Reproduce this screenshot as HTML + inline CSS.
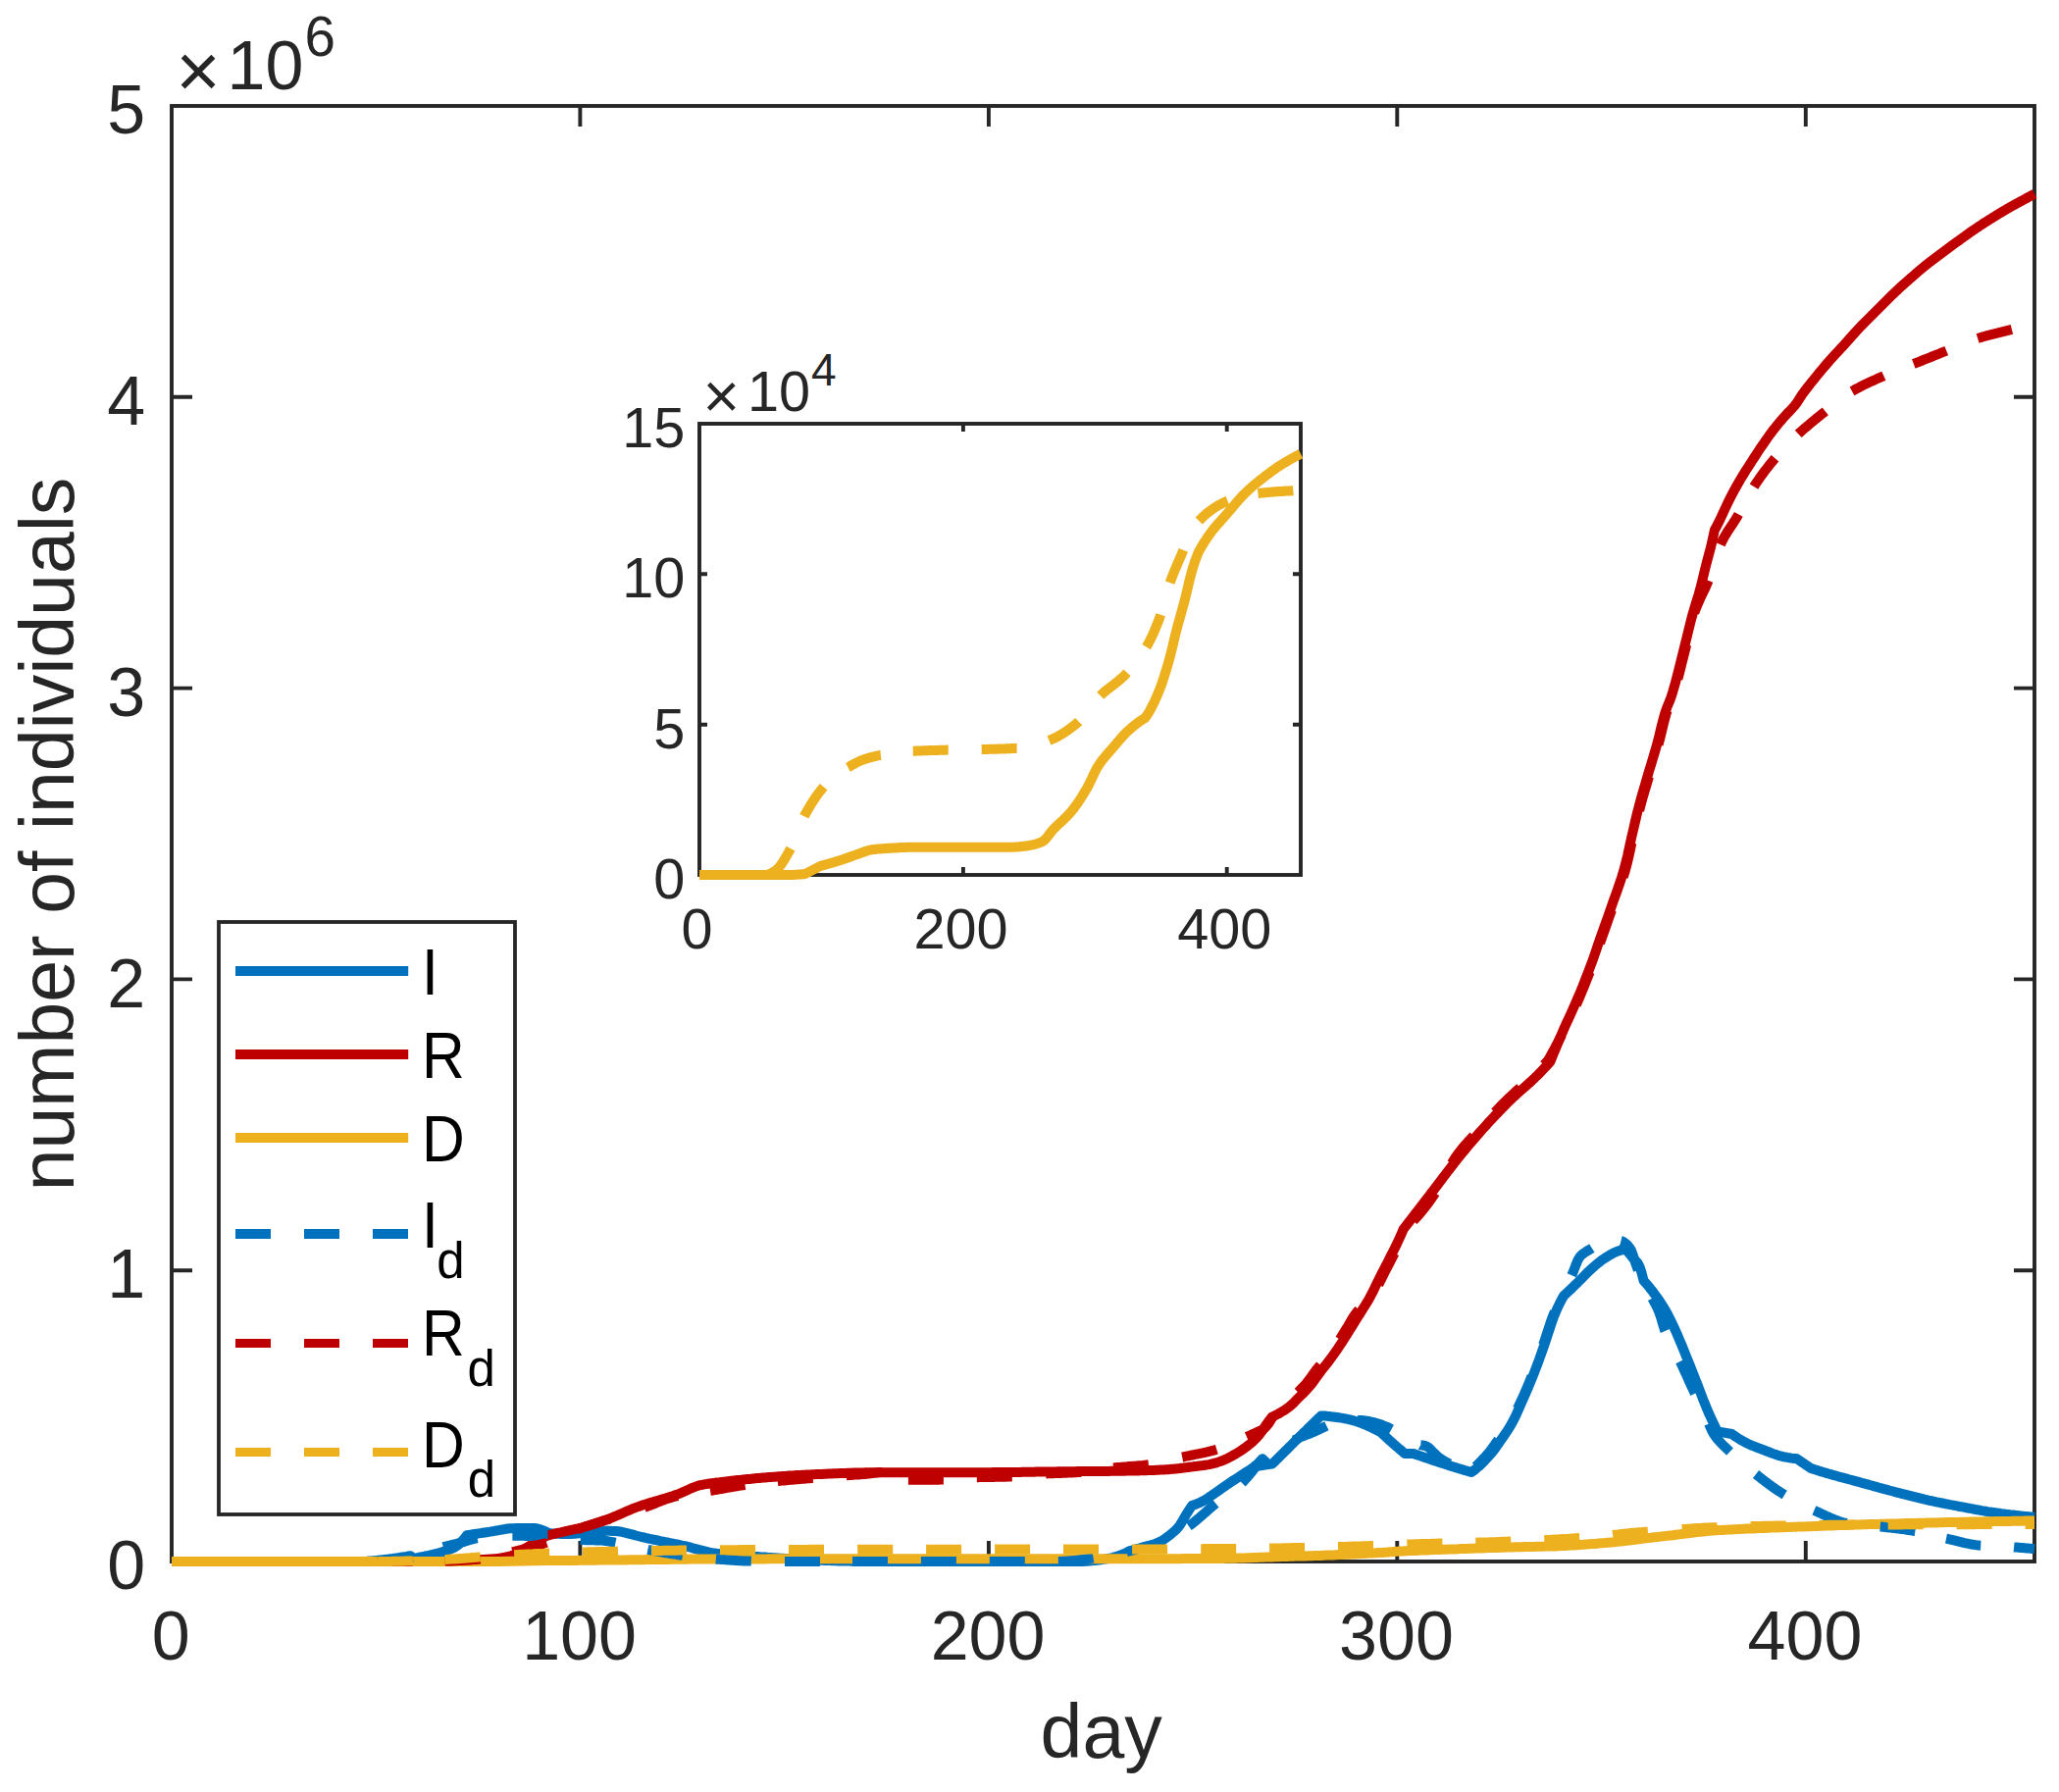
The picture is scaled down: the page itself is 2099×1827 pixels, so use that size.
<!DOCTYPE html>
<html><head><meta charset="utf-8"><title>figure</title>
<style>html,body{margin:0;padding:0;background:#fff}svg{display:block}</style></head>
<body>
<svg width="2099" height="1827" viewBox="0 0 2099 1827">
<rect x="0" y="0" width="2099" height="1827" fill="#ffffff"/>
<g stroke="#262626" stroke-width="3.9" fill="none" stroke-linecap="butt">
<rect x="175.0" y="108.0" width="1899.0" height="1484.0" fill="#ffffff" stroke-linejoin="miter"/>
<path d="M591.4 1592.0 V1571.0 M591.4 108.0 V129.0 M1007.9 1592.0 V1571.0 M1007.9 108.0 V129.0 M1424.3 1592.0 V1571.0 M1424.3 108.0 V129.0 M1840.8 1592.0 V1571.0 M1840.8 108.0 V129.0 M175.0 1295.2 H196.0 M2074.0 1295.2 H2053.0 M175.0 998.4 H196.0 M2074.0 998.4 H2053.0 M175.0 701.6 H196.0 M2074.0 701.6 H2053.0 M175.0 404.8 H196.0 M2074.0 404.8 H2053.0"/>
</g>
<path d="M175.0 1592.0 L177.0 1592.0 L179.0 1592.0 L181.0 1592.0 L183.0 1592.0 L185.1 1592.0 L187.1 1592.0 L189.1 1592.0 L191.1 1592.0 L193.1 1592.0 L195.1 1592.0 L197.1 1592.0 L199.1 1592.0 L201.2 1592.0 L203.2 1592.0 L205.2 1592.0 L207.2 1592.0 L209.2 1592.0 L211.2 1592.0 L213.2 1592.0 L215.2 1592.0 L217.3 1592.0 L219.3 1592.0 L221.3 1592.0 L223.3 1592.0 L225.3 1592.0 L227.3 1592.0 L229.3 1592.0 L231.3 1592.0 L233.4 1592.0 L235.4 1592.0 L237.4 1592.0 L239.4 1592.0 L241.4 1592.0 L243.4 1592.0 L245.4 1592.0 L247.4 1592.0 L249.5 1592.0 L251.5 1592.0 L253.5 1592.0 L255.5 1592.0 L257.5 1592.0 L259.5 1592.0 L261.5 1592.0 L263.5 1592.0 L265.6 1592.0 L267.6 1592.0 L269.6 1592.0 L271.6 1592.0 L273.6 1592.0 L275.6 1592.0 L277.6 1592.0 L279.6 1592.0 L281.7 1592.0 L283.7 1592.0 L285.7 1592.0 L287.7 1592.0 L289.7 1592.0 L291.7 1592.0 L293.7 1592.0 L295.7 1592.0 L297.8 1592.0 L299.8 1592.0 L301.8 1592.0 L303.8 1592.0 L305.8 1592.0 L307.8 1592.0 L309.8 1592.0 L311.8 1592.0 L313.9 1592.0 L315.9 1592.0 L317.9 1592.0 L319.9 1592.0 L321.9 1592.0 L323.9 1592.0 L325.9 1592.0 L327.9 1592.0 L330.0 1592.0 L332.0 1592.0 L334.0 1592.0 L336.0 1592.0 L338.0 1592.0 L340.0 1592.0 L342.0 1592.0 L344.0 1592.0 L346.1 1592.0 L348.1 1592.0 L350.1 1592.0 L352.1 1592.0 L354.1 1592.0 L356.1 1592.0 L358.1 1592.0 L360.1 1592.0 L362.2 1592.0 L364.2 1592.0 L366.2 1592.0 L368.2 1592.0 L370.2 1592.0 L372.2 1591.9 L374.2 1591.8 L376.2 1591.6 L378.3 1591.4 L380.3 1591.2 L382.3 1591.1 L384.3 1590.9 L386.3 1590.6 L388.3 1590.4 L390.3 1590.2 L392.3 1590.0 L394.4 1589.7 L396.4 1589.5 L398.4 1589.2 L400.4 1589.0 L402.4 1588.7 L404.4 1588.4 L406.4 1588.1 L408.4 1587.8 L410.5 1587.5 L412.5 1587.2 L414.5 1586.9 L416.5 1586.5 L418.5 1586.2 L420.5 1589.0 L422.6 1588.7 L424.6 1588.3 L426.7 1587.9 L428.7 1587.5 L430.8 1587.1 L432.8 1586.7 L434.9 1586.2 L436.9 1585.8 L439.0 1585.3 L441.1 1584.8 L443.1 1584.3 L445.2 1583.8 L447.2 1583.3 L449.3 1582.7 L451.3 1582.1 L453.4 1581.4 L455.4 1580.8 L457.5 1580.1 L459.6 1579.3 L461.6 1578.4 L463.7 1577.4 L465.7 1576.1 L467.8 1574.5 L469.8 1572.5 L471.9 1570.3 L473.9 1567.8 L476.0 1565.2 L478.0 1564.9 L480.0 1564.6 L482.0 1564.3 L484.0 1564.0 L486.0 1563.7 L488.0 1563.4 L490.0 1563.1 L492.0 1562.8 L494.0 1562.5 L496.0 1562.2 L498.0 1561.9 L500.0 1561.6 L502.0 1561.2 L504.0 1560.9 L506.0 1560.5 L508.0 1560.2 L510.0 1559.8 L512.0 1559.5 L514.0 1559.1 L516.0 1558.8 L518.0 1558.5 L520.0 1558.3 L522.0 1558.2 L524.0 1558.2 L526.0 1558.1 L528.0 1558.1 L530.0 1558.1 L532.0 1558.1 L534.0 1558.0 L536.0 1558.0 L538.0 1558.0 L540.0 1558.0 L542.0 1558.0 L544.0 1558.0 L546.0 1558.1 L548.0 1558.5 L550.0 1559.1 L552.0 1559.7 L554.0 1560.4 L556.0 1561.3 L558.0 1562.2 L560.0 1563.1 L562.0 1563.4 L564.0 1563.5 L566.0 1563.7 L568.0 1563.7 L570.0 1563.8 L572.0 1563.9 L574.0 1563.9 L576.0 1564.0 L578.0 1564.0 L580.0 1564.0 L582.0 1564.0 L584.0 1563.8 L586.0 1563.7 L588.0 1563.5 L590.0 1563.3 L592.0 1563.2 L594.1 1563.1 L596.1 1563.0 L598.1 1562.9 L600.1 1562.9 L602.1 1562.8 L604.1 1562.7 L606.1 1562.6 L608.1 1562.3 L610.1 1562.0 L612.1 1561.6 L614.1 1561.2 L616.1 1561.0 L618.1 1560.8 L620.1 1560.8 L622.1 1560.8 L624.1 1560.9 L626.1 1561.0 L628.1 1561.0 L630.1 1561.2 L632.1 1561.5 L634.1 1561.9 L636.1 1562.4 L638.1 1562.8 L640.1 1563.3 L642.1 1563.8 L644.1 1564.3 L646.1 1564.9 L648.1 1565.5 L650.1 1566.0 L652.1 1566.5 L654.1 1567.0 L656.1 1567.4 L658.1 1567.9 L660.1 1568.3 L662.1 1568.8 L664.1 1569.2 L666.1 1569.6 L668.1 1570.0 L670.1 1570.4 L672.1 1570.9 L674.1 1571.3 L676.1 1571.7 L678.1 1572.1 L680.1 1572.5 L682.1 1572.9 L684.1 1573.3 L686.1 1573.7 L688.1 1574.1 L690.1 1574.5 L692.1 1574.9 L694.1 1575.4 L696.1 1575.8 L698.1 1576.2 L700.1 1576.7 L702.1 1577.2 L704.1 1577.7 L706.1 1578.3 L708.1 1578.8 L710.1 1579.3 L712.1 1579.9 L714.1 1580.4 L716.1 1580.9 L718.1 1581.4 L720.1 1581.9 L722.1 1582.4 L724.1 1582.8 L726.1 1583.2 L728.1 1583.5 L730.1 1583.8 L732.1 1584.1 L734.1 1584.3 L736.1 1584.5 L738.1 1584.7 L740.1 1584.9 L742.1 1585.1 L744.1 1585.2 L746.1 1585.4 L748.1 1585.6 L750.1 1585.7 L752.1 1585.9 L754.1 1586.0 L756.1 1586.1 L758.1 1586.3 L760.1 1586.4 L762.1 1586.5 L764.1 1586.6 L766.1 1586.8 L768.1 1586.9 L770.1 1587.0 L772.1 1587.1 L774.1 1587.2 L776.1 1587.4 L778.1 1587.5 L780.1 1587.6 L782.1 1587.8 L784.1 1587.9 L786.1 1588.0 L788.1 1588.2 L790.1 1588.3 L792.1 1588.4 L794.1 1588.6 L796.1 1588.7 L798.1 1588.8 L800.1 1588.9 L802.1 1589.0 L804.1 1589.2 L806.1 1589.3 L808.1 1589.4 L810.1 1589.5 L812.1 1589.6 L814.1 1589.7 L816.1 1589.8 L818.1 1589.9 L820.1 1590.0 L822.1 1590.1 L824.1 1590.2 L826.1 1590.3 L828.2 1590.4 L830.2 1590.5 L832.2 1590.6 L834.2 1590.6 L836.2 1590.7 L838.2 1590.8 L840.2 1590.9 L842.2 1591.0 L844.2 1591.0 L846.2 1591.1 L848.2 1591.2 L850.2 1591.3 L852.2 1591.3 L854.2 1591.4 L856.2 1591.4 L858.2 1591.5 L860.2 1591.5 L862.2 1591.5 L864.2 1591.6 L866.2 1591.6 L868.2 1591.7 L870.2 1591.7 L872.2 1591.7 L874.2 1591.8 L876.2 1591.8 L878.2 1591.8 L880.2 1591.8 L882.2 1591.9 L884.2 1591.9 L886.2 1591.9 L888.2 1591.9 L890.2 1592.0 L892.2 1592.0 L894.2 1592.0 L896.2 1592.0 L898.2 1592.0 L900.2 1592.0 L902.2 1592.0 L904.2 1592.0 L906.2 1592.0 L908.2 1592.0 L910.2 1592.0 L912.2 1592.0 L914.2 1592.0 L916.2 1592.0 L918.2 1592.0 L920.2 1592.0 L922.2 1592.0 L924.2 1592.0 L926.2 1592.0 L928.2 1592.0 L930.2 1592.0 L932.2 1592.0 L934.2 1592.0 L936.2 1592.0 L938.2 1592.0 L940.2 1592.0 L942.2 1592.0 L944.2 1592.0 L946.2 1592.0 L948.2 1592.0 L950.2 1592.0 L952.2 1592.0 L954.2 1592.0 L956.2 1592.0 L958.2 1592.0 L960.2 1592.0 L962.2 1592.0 L964.2 1592.0 L966.2 1592.0 L968.2 1592.0 L970.2 1592.0 L972.2 1592.0 L974.2 1592.0 L976.2 1592.0 L978.2 1592.0 L980.2 1592.0 L982.2 1592.0 L984.2 1592.0 L986.2 1592.0 L988.2 1592.0 L990.2 1592.0 L992.2 1592.0 L994.2 1592.0 L996.2 1592.0 L998.2 1592.0 L1000.2 1592.0 L1002.2 1592.0 L1004.2 1592.0 L1006.2 1592.0 L1008.2 1592.0 L1010.2 1592.0 L1012.2 1592.0 L1014.2 1592.0 L1016.2 1592.0 L1018.2 1592.0 L1020.2 1592.0 L1022.2 1592.0 L1024.2 1592.0 L1026.2 1592.0 L1028.2 1592.0 L1030.2 1592.0 L1032.2 1592.0 L1034.2 1592.0 L1036.2 1592.0 L1038.2 1592.0 L1040.2 1592.0 L1042.2 1592.0 L1044.2 1592.0 L1046.2 1592.0 L1048.2 1592.0 L1050.2 1592.0 L1052.2 1592.0 L1054.2 1592.0 L1056.2 1592.0 L1058.2 1592.0 L1060.2 1592.0 L1062.3 1592.0 L1064.3 1592.0 L1066.3 1592.0 L1068.3 1592.0 L1070.3 1592.0 L1072.3 1592.0 L1074.3 1592.0 L1076.3 1592.0 L1078.3 1592.0 L1080.3 1592.0 L1082.3 1592.0 L1084.3 1592.0 L1086.3 1592.0 L1088.3 1592.0 L1090.3 1592.0 L1092.3 1592.0 L1094.3 1592.0 L1096.3 1592.0 L1098.3 1592.0 L1100.3 1592.0 L1102.3 1592.0 L1104.3 1591.9 L1106.3 1591.8 L1108.3 1591.7 L1110.3 1591.5 L1112.3 1591.3 L1114.3 1591.1 L1116.3 1590.9 L1118.3 1590.7 L1120.3 1590.5 L1122.3 1590.2 L1124.3 1589.9 L1126.3 1589.6 L1128.3 1589.3 L1130.3 1588.9 L1132.3 1588.5 L1134.3 1588.0 L1136.3 1587.4 L1138.3 1586.8 L1140.3 1586.1 L1142.3 1585.4 L1144.3 1584.6 L1146.3 1583.8 L1148.3 1583.0 L1150.3 1582.2 L1152.3 1581.4 L1154.3 1580.7 L1156.3 1580.0 L1158.3 1579.4 L1160.3 1578.8 L1162.3 1578.3 L1164.3 1577.7 L1166.3 1577.2 L1168.3 1576.7 L1170.3 1576.2 L1172.3 1575.7 L1174.3 1575.3 L1176.3 1574.8 L1178.3 1574.4 L1180.4 1573.3 L1182.4 1572.1 L1184.5 1570.9 L1186.5 1569.5 L1188.6 1568.0 L1190.6 1566.5 L1192.7 1565.0 L1194.7 1563.3 L1196.8 1561.5 L1198.9 1559.6 L1200.9 1557.4 L1203.0 1554.7 L1205.0 1551.4 L1207.1 1547.7 L1209.1 1544.2 L1211.2 1541.0 L1213.2 1537.9 L1215.3 1534.9 L1217.3 1534.3 L1219.4 1533.5 L1221.4 1532.7 L1223.5 1531.8 L1225.5 1530.8 L1227.6 1529.7 L1229.6 1528.5 L1231.7 1527.1 L1233.7 1525.7 L1235.8 1524.2 L1237.8 1522.8 L1239.9 1521.4 L1241.9 1520.0 L1244.0 1518.6 L1246.0 1517.1 L1248.1 1515.7 L1250.1 1514.2 L1252.2 1512.8 L1254.2 1511.4 L1256.3 1510.0 L1258.3 1508.7 L1260.4 1507.4 L1262.4 1506.1 L1264.5 1504.7 L1266.5 1503.4 L1268.6 1502.1 L1270.6 1500.7 L1272.7 1499.4 L1274.7 1498.1 L1276.8 1496.7 L1278.8 1495.1 L1280.9 1493.5 L1282.9 1491.5 L1285.0 1489.4 L1287.0 1487.2 L1292.7 1492.9 L1297.0 1492.5 L1299.1 1490.5 L1301.1 1488.4 L1303.2 1486.4 L1305.3 1484.3 L1307.3 1482.3 L1309.4 1480.2 L1311.5 1478.2 L1313.5 1476.1 L1315.6 1474.0 L1317.7 1472.0 L1319.7 1469.9 L1321.8 1467.9 L1323.9 1465.8 L1325.9 1463.8 L1328.0 1461.7 L1330.1 1459.7 L1332.1 1457.7 L1334.2 1455.6 L1336.3 1453.6 L1338.3 1451.6 L1340.4 1449.6 L1342.5 1447.5 L1344.5 1445.5 L1346.6 1443.5 L1348.6 1443.5 L1350.7 1443.6 L1352.7 1443.8 L1354.7 1443.9 L1356.7 1444.2 L1358.8 1444.4 L1360.8 1444.7 L1362.8 1445.0 L1364.8 1445.3 L1366.9 1445.6 L1368.9 1445.9 L1370.9 1446.3 L1372.9 1446.7 L1375.0 1447.1 L1377.0 1447.6 L1379.0 1448.1 L1381.1 1448.7 L1383.1 1449.3 L1385.1 1450.0 L1387.1 1450.7 L1389.2 1451.5 L1391.2 1452.3 L1393.2 1453.2 L1395.2 1454.1 L1397.3 1455.0 L1399.3 1456.0 L1401.3 1457.0 L1403.3 1458.0 L1405.4 1459.0 L1407.4 1460.1 L1409.5 1462.0 L1411.5 1463.9 L1413.6 1465.8 L1415.7 1467.7 L1417.7 1469.5 L1419.8 1471.4 L1421.9 1473.2 L1423.9 1475.0 L1426.0 1476.8 L1428.1 1478.5 L1430.1 1480.3 L1432.2 1482.0 L1441.0 1482.0 L1443.0 1482.7 L1445.1 1483.4 L1447.1 1484.1 L1449.1 1484.8 L1451.2 1485.5 L1453.2 1486.2 L1455.2 1486.9 L1457.3 1487.6 L1459.3 1488.3 L1461.3 1489.0 L1463.4 1489.6 L1465.4 1490.3 L1467.4 1491.0 L1469.5 1491.6 L1471.5 1492.3 L1473.6 1492.9 L1475.6 1493.6 L1477.6 1494.2 L1479.7 1494.9 L1481.7 1495.5 L1483.7 1496.1 L1485.8 1496.7 L1487.8 1497.4 L1489.8 1498.0 L1491.9 1498.6 L1493.9 1499.2 L1495.9 1499.8 L1498.0 1500.4 L1500.0 1501.0 L1502.0 1499.6 L1504.0 1498.0 L1506.0 1496.3 L1508.0 1494.6 L1510.0 1492.6 L1512.0 1490.6 L1514.0 1488.6 L1516.1 1486.4 L1518.1 1484.2 L1520.1 1481.9 L1522.1 1479.5 L1524.1 1476.9 L1526.1 1474.0 L1528.1 1471.1 L1530.1 1468.2 L1532.1 1465.3 L1534.1 1462.4 L1536.1 1459.5 L1538.1 1456.4 L1540.1 1453.1 L1542.1 1449.6 L1544.1 1445.6 L1546.1 1441.3 L1548.2 1436.7 L1550.2 1432.1 L1552.2 1427.5 L1554.2 1422.9 L1556.2 1418.4 L1558.2 1413.7 L1560.2 1408.9 L1562.2 1404.1 L1564.2 1399.0 L1566.2 1393.8 L1568.2 1388.4 L1570.2 1382.9 L1572.2 1377.3 L1574.2 1371.5 L1576.2 1365.7 L1578.2 1359.4 L1580.3 1353.1 L1582.3 1347.0 L1584.3 1341.6 L1586.3 1336.8 L1588.3 1332.3 L1590.3 1328.1 L1592.3 1324.3 L1594.3 1320.9 L1596.3 1319.0 L1598.4 1317.1 L1600.4 1315.2 L1602.5 1313.3 L1604.5 1311.3 L1606.5 1309.3 L1608.6 1307.3 L1610.6 1305.3 L1612.6 1303.2 L1614.7 1301.1 L1616.7 1299.0 L1618.8 1296.9 L1620.8 1295.0 L1622.8 1293.2 L1624.9 1291.4 L1626.9 1289.6 L1629.0 1287.9 L1631.0 1286.3 L1633.0 1284.7 L1635.1 1283.3 L1637.1 1282.0 L1639.2 1280.7 L1641.2 1279.5 L1643.2 1278.4 L1645.3 1277.3 L1647.3 1276.4 L1649.3 1275.6 L1651.4 1274.9 L1653.4 1274.4 L1655.5 1273.9 L1657.5 1273.6 L1659.5 1276.2 L1661.5 1278.7 L1663.5 1281.2 L1665.5 1283.5 L1667.6 1285.5 L1669.6 1287.8 L1671.6 1291.7 L1673.6 1297.9 L1675.6 1305.7 L1677.6 1308.0 L1679.6 1310.3 L1681.7 1312.8 L1683.7 1315.3 L1685.7 1318.0 L1687.7 1320.7 L1689.8 1323.5 L1691.8 1326.4 L1693.8 1329.5 L1695.8 1332.7 L1697.9 1336.1 L1699.9 1339.7 L1701.9 1343.7 L1703.9 1347.8 L1706.0 1352.1 L1708.0 1356.5 L1710.0 1361.0 L1712.0 1365.8 L1714.1 1370.7 L1716.1 1375.7 L1718.1 1380.7 L1720.1 1385.7 L1722.2 1390.7 L1724.2 1395.8 L1726.2 1400.9 L1728.2 1406.0 L1730.3 1411.1 L1732.3 1416.4 L1734.3 1421.7 L1736.3 1427.0 L1738.4 1432.2 L1740.4 1437.1 L1742.4 1441.7 L1744.4 1446.0 L1746.5 1450.5 L1748.5 1454.9 L1750.5 1459.3 L1765.5 1462.0 L1767.5 1463.4 L1769.5 1464.8 L1771.5 1466.1 L1773.5 1467.4 L1775.6 1468.6 L1777.6 1469.7 L1779.6 1470.8 L1781.6 1471.8 L1783.6 1472.7 L1785.6 1473.6 L1787.6 1474.4 L1789.6 1475.2 L1791.7 1476.0 L1793.7 1476.7 L1795.7 1477.5 L1797.7 1478.2 L1799.7 1479.0 L1801.7 1479.8 L1803.7 1480.5 L1805.7 1481.3 L1807.8 1482.1 L1809.8 1482.8 L1811.8 1483.5 L1813.8 1484.1 L1815.8 1484.6 L1817.8 1485.1 L1819.8 1485.5 L1821.8 1485.9 L1823.9 1486.2 L1825.9 1486.6 L1827.9 1486.9 L1829.9 1487.1 L1831.9 1487.3 L1845.9 1496.9 L1847.9 1497.5 L1849.9 1498.2 L1851.9 1498.8 L1853.9 1499.5 L1855.9 1500.1 L1857.9 1500.7 L1859.9 1501.3 L1861.9 1501.9 L1863.9 1502.5 L1865.9 1503.0 L1867.9 1503.6 L1869.9 1504.2 L1871.9 1504.7 L1873.9 1505.3 L1875.9 1505.8 L1877.9 1506.3 L1879.9 1506.9 L1881.9 1507.4 L1883.9 1508.0 L1885.9 1508.5 L1887.9 1509.0 L1889.9 1509.6 L1891.9 1510.1 L1893.9 1510.7 L1895.9 1511.2 L1897.9 1511.8 L1899.9 1512.3 L1901.9 1512.9 L1903.9 1513.4 L1905.9 1514.0 L1907.9 1514.5 L1909.9 1515.1 L1911.9 1515.7 L1913.9 1516.2 L1915.9 1516.8 L1917.9 1517.3 L1919.9 1517.9 L1921.9 1518.4 L1923.9 1518.9 L1925.9 1519.5 L1927.9 1520.0 L1929.9 1520.5 L1931.9 1521.1 L1933.9 1521.6 L1935.9 1522.1 L1937.9 1522.6 L1939.9 1523.2 L1941.9 1523.7 L1943.9 1524.2 L1945.9 1524.7 L1947.9 1525.2 L1949.9 1525.7 L1951.9 1526.2 L1953.9 1526.7 L1955.9 1527.2 L1957.9 1527.7 L1960.0 1528.2 L1962.0 1528.7 L1964.0 1529.1 L1966.0 1529.6 L1968.0 1530.0 L1970.0 1530.4 L1972.0 1530.8 L1974.0 1531.3 L1976.0 1531.7 L1978.0 1532.1 L1980.0 1532.5 L1982.0 1532.9 L1984.0 1533.3 L1986.0 1533.7 L1988.0 1534.1 L1990.0 1534.4 L1992.0 1534.8 L1994.0 1535.2 L1996.0 1535.6 L1998.0 1536.0 L2000.0 1536.3 L2002.0 1536.7 L2004.0 1537.1 L2006.0 1537.5 L2008.0 1537.8 L2010.0 1538.2 L2012.0 1538.6 L2014.0 1539.0 L2016.0 1539.3 L2018.0 1539.7 L2020.0 1540.1 L2022.0 1540.4 L2024.0 1540.7 L2026.0 1541.1 L2028.0 1541.4 L2030.0 1541.7 L2032.0 1542.0 L2034.0 1542.3 L2036.0 1542.6 L2038.0 1542.8 L2040.0 1543.1 L2042.0 1543.4 L2044.0 1543.6 L2046.0 1543.9 L2048.0 1544.1 L2050.0 1544.4 L2052.0 1544.6 L2054.0 1544.8 L2056.0 1545.1 L2058.0 1545.3 L2060.0 1545.5 L2062.0 1545.7 L2064.0 1545.9 L2066.0 1546.1 L2068.0 1546.3 L2070.0 1546.5 L2072.0 1546.6 L2074.0 1546.8" fill="none" stroke="#0072BD" stroke-width="10" stroke-linejoin="round" stroke-linecap="butt"/>
<path d="M175.0 1592.0 L177.0 1592.0 L179.0 1592.0 L181.0 1592.0 L183.0 1592.0 L185.0 1592.0 L187.0 1592.0 L189.0 1592.0 L191.0 1592.0 L193.0 1592.0 L195.0 1592.0 L197.0 1592.0 L199.0 1592.0 L201.0 1592.0 L203.0 1592.0 L205.0 1592.0 L207.0 1592.0 L209.1 1592.0 L211.1 1592.0 L213.1 1592.0 L215.1 1592.0 L217.1 1592.0 L219.1 1592.0 L221.1 1592.0 L223.1 1592.0 L225.1 1592.0 L227.1 1592.0 L229.1 1592.0 L231.1 1592.0 L233.1 1592.0 L235.1 1592.0 L237.1 1592.0 L239.1 1592.0 L241.1 1592.0 L243.1 1592.0 L245.1 1592.0 L247.1 1592.0 L249.1 1592.0 L251.1 1592.0 L253.1 1592.0 L255.1 1592.0 L257.1 1592.0 L259.1 1592.0 L261.1 1592.0 L263.1 1592.0 L265.1 1592.0 L267.1 1592.0 L269.1 1592.0 L271.1 1592.0 L273.1 1592.0 L275.2 1592.0 L277.2 1592.0 L279.2 1592.0 L281.2 1592.0 L283.2 1592.0 L285.2 1592.0 L287.2 1592.0 L289.2 1592.0 L291.2 1592.0 L293.2 1592.0 L295.2 1592.0 L297.2 1592.0 L299.2 1592.0 L301.2 1592.0 L303.2 1592.0 L305.2 1592.0 L307.2 1592.0 L309.2 1592.0 L311.2 1592.0 L313.2 1592.0 L315.2 1592.0 L317.2 1592.0 L319.2 1592.0 L321.2 1592.0 L323.2 1592.0 L325.2 1592.0 L327.2 1592.0 L329.2 1592.0 L331.2 1592.0 L333.2 1592.0 L335.2 1592.0 L337.2 1592.0 L339.2 1592.0 L341.3 1592.0 L343.3 1592.0 L345.3 1592.0 L347.3 1592.0 L349.3 1592.0 L351.3 1592.0 L353.3 1592.0 L355.3 1592.0 L357.3 1592.0 L359.3 1592.0 L361.3 1592.0 L363.3 1592.0 L365.3 1592.0 L367.3 1592.0 L369.3 1592.0 L371.3 1592.0 L373.3 1592.0 L375.3 1592.0 L377.3 1592.0 L379.3 1592.0 L381.3 1592.0 L383.3 1592.0 L385.3 1592.0 L387.3 1592.0 L389.3 1592.0 L391.3 1592.0 L393.3 1592.0 L395.3 1592.0 L397.3 1592.0 L399.3 1592.0 L401.3 1592.0 L403.3 1592.0 L405.3 1592.0 L407.4 1592.0 L409.4 1592.0 L411.4 1592.0 L413.4 1592.0 L415.4 1592.0 L417.4 1592.0 L419.4 1592.0 L421.4 1592.0 L423.4 1592.0 L425.4 1592.0 L427.4 1592.0 L429.4 1592.0 L431.4 1592.0 L433.4 1592.0 L435.4 1592.0 L437.4 1592.0 L439.4 1592.0 L441.4 1592.0 L443.4 1592.0 L445.4 1592.0 L447.4 1592.0 L449.4 1592.0 L451.4 1592.0 L453.4 1592.0 L455.4 1592.0 L457.4 1592.0 L459.4 1591.9 L461.4 1591.9 L463.4 1591.8 L465.4 1591.8 L467.4 1591.7 L469.4 1591.6 L471.4 1591.5 L473.5 1591.4 L475.5 1591.3 L477.5 1591.2 L479.5 1591.0 L481.5 1590.8 L483.5 1590.7 L485.5 1590.5 L487.5 1590.3 L489.5 1590.1 L491.5 1590.0 L493.5 1589.9 L495.5 1589.8 L497.5 1589.7 L499.5 1589.6 L501.5 1589.5 L503.5 1589.3 L505.5 1589.2 L507.5 1588.9 L509.5 1588.6 L511.5 1588.3 L513.5 1587.9 L515.5 1587.5 L517.5 1587.0 L519.5 1586.5 L521.5 1586.0 L523.5 1585.3 L525.5 1584.5 L527.5 1583.5 L529.5 1582.4 L531.5 1581.2 L533.5 1580.0 L535.5 1578.7 L537.5 1577.4 L539.6 1576.3 L541.6 1575.1 L543.6 1573.9 L545.6 1572.6 L547.6 1571.3 L549.6 1570.0 L551.6 1568.8 L553.6 1567.7 L555.6 1566.7 L557.6 1565.9 L559.6 1565.2 L561.6 1564.6 L563.6 1564.1 L565.6 1563.6 L567.6 1563.1 L569.6 1562.7 L571.6 1562.3 L573.6 1561.8 L575.6 1561.4 L577.6 1560.9 L579.6 1560.5 L581.6 1560.0 L583.6 1559.6 L585.6 1559.2 L587.6 1558.7 L589.6 1558.3 L591.6 1557.8 L593.6 1557.3 L595.6 1556.7 L597.6 1556.2 L599.6 1555.6 L601.6 1555.0 L603.6 1554.4 L605.7 1553.7 L607.7 1553.1 L609.7 1552.4 L611.7 1551.7 L613.7 1551.0 L615.7 1550.3 L617.7 1549.6 L619.7 1548.9 L621.7 1548.2 L623.7 1547.4 L625.7 1546.5 L627.7 1545.7 L629.7 1544.8 L631.7 1544.0 L633.7 1543.1 L635.7 1542.2 L637.7 1541.3 L639.7 1540.4 L641.7 1539.6 L643.7 1538.7 L645.7 1537.9 L647.7 1537.1 L649.7 1536.4 L651.7 1535.7 L653.7 1535.0 L655.7 1534.3 L657.7 1533.7 L659.7 1533.1 L661.7 1532.4 L663.7 1531.8 L665.7 1531.2 L667.7 1530.6 L669.7 1530.1 L671.8 1529.5 L673.8 1528.9 L675.8 1528.3 L677.8 1527.7 L679.8 1527.1 L681.8 1526.5 L683.8 1525.8 L685.8 1525.2 L687.8 1524.5 L689.8 1523.8 L691.8 1523.1 L693.8 1522.3 L695.8 1521.4 L697.8 1520.5 L699.8 1519.6 L701.8 1518.7 L703.8 1517.8 L705.8 1516.9 L707.8 1516.1 L709.8 1515.4 L711.8 1514.7 L713.8 1514.2 L715.8 1513.8 L717.8 1513.4 L719.8 1513.1 L721.8 1512.8 L723.8 1512.5 L725.8 1512.2 L727.8 1511.9 L729.8 1511.6 L731.8 1511.4 L733.8 1511.2 L735.9 1510.9 L737.9 1510.7 L739.9 1510.5 L741.9 1510.3 L743.9 1510.0 L745.9 1509.8 L747.9 1509.6 L749.9 1509.3 L751.9 1509.1 L753.9 1508.9 L755.9 1508.7 L757.9 1508.5 L759.9 1508.3 L761.9 1508.1 L763.9 1507.9 L765.9 1507.7 L767.9 1507.5 L769.9 1507.3 L771.9 1507.1 L773.9 1507.0 L775.9 1506.8 L777.9 1506.6 L779.9 1506.5 L781.9 1506.3 L783.9 1506.1 L785.9 1506.0 L787.9 1505.8 L789.9 1505.7 L791.9 1505.5 L793.9 1505.3 L795.9 1505.2 L797.9 1505.0 L799.9 1504.9 L802.0 1504.8 L804.0 1504.6 L806.0 1504.5 L808.0 1504.4 L810.0 1504.2 L812.0 1504.1 L814.0 1504.0 L816.0 1503.9 L818.0 1503.8 L820.0 1503.7 L822.0 1503.6 L824.0 1503.5 L826.0 1503.4 L828.0 1503.3 L830.0 1503.2 L832.0 1503.1 L834.0 1503.1 L836.0 1503.0 L838.0 1502.9 L840.0 1502.8 L842.0 1502.7 L844.0 1502.6 L846.0 1502.5 L848.0 1502.4 L850.0 1502.3 L852.0 1502.3 L854.0 1502.2 L856.0 1502.1 L858.0 1502.0 L860.0 1502.0 L862.0 1501.9 L864.0 1501.8 L866.0 1501.7 L868.1 1501.7 L870.1 1501.6 L872.1 1501.6 L874.1 1501.5 L876.1 1501.5 L878.1 1501.4 L880.1 1501.4 L882.1 1501.3 L884.1 1501.3 L886.1 1501.3 L888.1 1501.3 L890.1 1501.2 L892.1 1501.2 L894.1 1501.2 L896.1 1501.2 L898.1 1501.2 L900.1 1501.2 L902.1 1501.2 L904.1 1501.2 L906.1 1501.2 L908.1 1501.2 L910.1 1501.2 L912.1 1501.2 L914.1 1501.2 L916.1 1501.2 L918.1 1501.2 L920.1 1501.2 L922.1 1501.2 L924.1 1501.2 L926.1 1501.2 L928.1 1501.2 L930.1 1501.2 L932.1 1501.2 L934.2 1501.2 L936.2 1501.2 L938.2 1501.2 L940.2 1501.2 L942.2 1501.2 L944.2 1501.2 L946.2 1501.2 L948.2 1501.2 L950.2 1501.2 L952.2 1501.2 L954.2 1501.2 L956.2 1501.2 L958.2 1501.2 L960.2 1501.2 L962.2 1501.2 L964.2 1501.2 L966.2 1501.2 L968.2 1501.2 L970.2 1501.2 L972.2 1501.2 L974.2 1501.2 L976.2 1501.2 L978.2 1501.2 L980.2 1501.2 L982.2 1501.2 L984.2 1501.2 L986.2 1501.2 L988.2 1501.2 L990.2 1501.2 L992.2 1501.2 L994.2 1501.2 L996.2 1501.2 L998.2 1501.2 L1000.3 1501.2 L1002.3 1501.2 L1004.3 1501.2 L1006.3 1501.2 L1008.3 1501.2 L1010.3 1501.2 L1012.3 1501.1 L1014.3 1501.1 L1016.3 1501.1 L1018.3 1501.1 L1020.3 1501.1 L1022.3 1501.1 L1024.3 1501.0 L1026.3 1501.0 L1028.3 1501.0 L1030.3 1501.0 L1032.3 1501.0 L1034.3 1500.9 L1036.3 1500.9 L1038.3 1500.9 L1040.3 1500.9 L1042.3 1500.8 L1044.3 1500.8 L1046.3 1500.8 L1048.3 1500.8 L1050.3 1500.7 L1052.3 1500.7 L1054.3 1500.7 L1056.3 1500.6 L1058.3 1500.6 L1060.3 1500.6 L1062.3 1500.6 L1064.3 1500.5 L1066.4 1500.5 L1068.4 1500.5 L1070.4 1500.5 L1072.4 1500.4 L1074.4 1500.4 L1076.4 1500.4 L1078.4 1500.3 L1080.4 1500.3 L1082.4 1500.3 L1084.4 1500.3 L1086.4 1500.3 L1088.4 1500.2 L1090.4 1500.2 L1092.4 1500.2 L1094.4 1500.2 L1096.4 1500.2 L1098.4 1500.1 L1100.4 1500.1 L1102.4 1500.1 L1104.4 1500.1 L1106.4 1500.1 L1108.4 1500.0 L1110.4 1500.0 L1112.4 1500.0 L1114.4 1500.0 L1116.4 1500.0 L1118.4 1500.0 L1120.4 1499.9 L1122.4 1499.9 L1124.4 1499.9 L1126.4 1499.9 L1128.4 1499.9 L1130.4 1499.9 L1132.5 1499.8 L1134.5 1499.8 L1136.5 1499.8 L1138.5 1499.8 L1140.5 1499.7 L1142.5 1499.7 L1144.5 1499.7 L1146.5 1499.7 L1148.5 1499.6 L1150.5 1499.6 L1152.5 1499.6 L1154.5 1499.5 L1156.5 1499.5 L1158.5 1499.4 L1160.5 1499.4 L1162.5 1499.3 L1164.5 1499.3 L1166.5 1499.2 L1168.5 1499.2 L1170.5 1499.1 L1172.5 1499.0 L1174.5 1499.0 L1176.5 1498.9 L1178.5 1498.8 L1180.5 1498.7 L1182.5 1498.6 L1184.5 1498.6 L1186.5 1498.5 L1188.5 1498.3 L1190.5 1498.2 L1192.5 1498.0 L1194.5 1497.8 L1196.5 1497.7 L1198.6 1497.4 L1200.6 1497.2 L1202.6 1497.0 L1204.6 1496.7 L1206.6 1496.5 L1208.6 1496.2 L1210.6 1496.0 L1212.6 1495.7 L1214.6 1495.4 L1216.6 1495.2 L1218.6 1494.9 L1220.6 1494.7 L1222.6 1494.4 L1224.6 1494.2 L1226.6 1494.0 L1228.6 1493.7 L1230.6 1493.4 L1232.6 1493.1 L1234.6 1492.7 L1236.6 1492.2 L1238.6 1491.7 L1240.6 1491.1 L1242.6 1490.4 L1244.6 1489.7 L1246.6 1489.0 L1248.6 1488.1 L1250.6 1487.2 L1252.6 1486.2 L1254.6 1485.1 L1256.6 1484.0 L1258.6 1482.9 L1260.6 1481.7 L1262.6 1480.5 L1264.7 1479.2 L1266.7 1477.8 L1268.7 1476.4 L1270.7 1475.0 L1272.7 1473.4 L1274.7 1471.8 L1276.7 1470.1 L1278.7 1468.2 L1280.7 1466.2 L1282.7 1463.9 L1284.7 1461.5 L1286.7 1458.8 L1288.7 1455.8 L1290.7 1452.7 L1292.7 1449.9 L1294.7 1447.2 L1296.7 1444.6 L1298.7 1443.7 L1300.8 1442.6 L1302.8 1441.6 L1304.8 1440.5 L1306.8 1439.3 L1308.9 1438.1 L1310.9 1436.8 L1312.9 1435.3 L1315.0 1433.6 L1317.0 1431.9 L1319.0 1430.0 L1321.0 1427.9 L1323.1 1425.8 L1325.1 1423.8 L1327.1 1421.8 L1329.2 1419.8 L1331.2 1417.7 L1333.2 1415.4 L1335.2 1413.1 L1337.3 1410.7 L1339.3 1408.0 L1341.3 1405.2 L1343.4 1402.3 L1345.4 1399.5 L1347.4 1396.8 L1349.4 1394.2 L1351.5 1391.7 L1353.5 1389.1 L1355.5 1386.4 L1357.6 1383.7 L1359.6 1380.9 L1361.6 1378.0 L1363.7 1375.1 L1365.7 1372.1 L1367.7 1369.1 L1369.7 1365.9 L1371.8 1362.6 L1373.8 1359.4 L1375.8 1356.1 L1377.9 1352.9 L1379.9 1349.6 L1381.9 1346.4 L1383.9 1343.1 L1386.0 1339.9 L1388.0 1336.6 L1390.0 1333.4 L1392.1 1330.2 L1394.1 1326.9 L1396.1 1323.4 L1398.1 1319.6 L1400.2 1315.6 L1402.2 1311.4 L1404.2 1307.2 L1406.3 1303.1 L1408.3 1299.1 L1410.3 1295.2 L1412.3 1291.2 L1414.4 1287.3 L1416.4 1283.3 L1418.4 1279.3 L1420.5 1275.3 L1422.5 1271.3 L1424.5 1267.1 L1426.5 1262.7 L1428.6 1258.1 L1430.6 1253.3 L1432.6 1250.7 L1434.6 1248.1 L1436.7 1245.5 L1438.7 1242.9 L1440.7 1240.2 L1442.7 1237.6 L1444.8 1235.0 L1446.8 1232.4 L1448.8 1229.7 L1450.8 1227.1 L1452.9 1224.5 L1454.9 1221.8 L1456.9 1219.2 L1458.9 1216.5 L1461.0 1213.9 L1463.0 1211.2 L1465.0 1208.6 L1467.0 1205.9 L1469.1 1203.3 L1471.1 1200.6 L1473.1 1198.0 L1475.1 1195.3 L1477.2 1192.6 L1479.2 1190.0 L1481.2 1187.4 L1483.2 1184.8 L1485.3 1182.2 L1487.3 1179.7 L1489.3 1177.2 L1491.3 1174.7 L1493.4 1172.2 L1495.4 1169.8 L1497.4 1167.4 L1499.4 1165.0 L1501.5 1162.6 L1503.5 1160.2 L1505.5 1157.9 L1507.5 1155.6 L1509.5 1153.3 L1511.6 1151.0 L1513.6 1148.8 L1515.6 1146.6 L1517.6 1144.3 L1519.7 1142.1 L1521.7 1140.0 L1523.7 1137.8 L1525.7 1135.7 L1527.8 1133.6 L1529.8 1131.5 L1531.8 1129.4 L1533.8 1127.4 L1535.9 1125.3 L1537.9 1123.3 L1539.9 1121.3 L1541.9 1119.4 L1544.0 1117.5 L1546.0 1115.6 L1548.0 1113.8 L1550.0 1112.0 L1552.1 1110.2 L1554.1 1108.5 L1556.1 1106.7 L1558.1 1104.9 L1560.2 1103.1 L1562.2 1101.2 L1564.2 1099.3 L1566.2 1097.3 L1568.3 1095.3 L1570.3 1093.2 L1572.3 1091.1 L1574.3 1089.0 L1576.4 1086.9 L1578.4 1084.7 L1580.4 1082.5 L1582.4 1077.5 L1584.4 1072.5 L1586.5 1067.6 L1588.5 1062.7 L1590.5 1057.9 L1592.5 1053.2 L1594.5 1048.5 L1596.5 1044.0 L1598.6 1039.6 L1600.6 1035.2 L1602.6 1030.7 L1604.6 1026.3 L1606.6 1021.7 L1608.6 1017.0 L1610.7 1012.2 L1612.7 1007.3 L1614.7 1002.3 L1616.7 997.2 L1618.7 992.0 L1620.7 986.7 L1622.8 981.2 L1624.8 975.6 L1626.8 969.8 L1628.8 963.9 L1630.8 958.1 L1632.8 952.3 L1634.9 946.6 L1636.9 941.0 L1638.9 935.3 L1640.9 929.7 L1642.9 923.9 L1644.9 918.1 L1647.0 912.4 L1649.0 906.8 L1651.0 901.0 L1653.0 895.0 L1655.0 888.5 L1657.0 881.1 L1659.1 872.6 L1661.1 863.4 L1663.1 854.3 L1665.1 845.6 L1667.1 837.0 L1669.1 828.5 L1671.2 820.6 L1673.2 813.1 L1675.2 806.1 L1677.2 799.3 L1679.2 792.5 L1681.2 785.7 L1683.3 779.0 L1685.3 772.3 L1687.3 765.5 L1689.3 758.4 L1691.3 750.7 L1693.3 742.2 L1695.4 734.0 L1697.4 726.7 L1699.4 721.1 L1701.4 716.4 L1703.4 711.2 L1705.4 704.9 L1707.5 697.7 L1709.5 690.1 L1711.5 682.1 L1713.5 674.1 L1715.5 666.2 L1717.5 658.1 L1719.6 649.8 L1721.6 641.4 L1723.6 633.4 L1725.6 625.9 L1727.6 619.1 L1729.6 612.5 L1731.7 605.9 L1733.7 598.6 L1735.7 590.4 L1737.7 582.1 L1739.7 574.1 L1741.7 566.6 L1743.8 558.8 L1745.8 550.1 L1747.8 540.7 L1749.8 536.9 L1751.8 533.0 L1753.8 529.0 L1755.8 524.7 L1757.8 520.3 L1759.8 516.0 L1761.8 511.7 L1763.8 507.7 L1765.8 503.9 L1767.8 500.1 L1769.8 496.5 L1771.8 493.0 L1773.8 489.5 L1775.8 486.2 L1777.8 482.9 L1779.8 479.7 L1781.8 476.6 L1783.8 473.5 L1785.8 470.4 L1787.8 467.3 L1789.8 464.2 L1791.8 461.1 L1793.8 458.1 L1795.8 455.2 L1797.8 452.3 L1799.8 449.4 L1801.8 446.5 L1803.8 443.7 L1805.8 441.0 L1807.8 438.3 L1809.8 435.8 L1811.8 433.3 L1813.8 430.9 L1815.8 428.6 L1817.8 426.3 L1819.8 424.0 L1821.8 421.8 L1823.8 419.7 L1825.8 417.7 L1827.8 415.5 L1829.9 413.1 L1831.9 410.4 L1833.9 407.3 L1835.9 404.1 L1837.9 401.2 L1839.9 398.5 L1841.9 395.9 L1843.9 393.4 L1845.9 390.8 L1847.9 388.3 L1849.9 385.8 L1851.9 383.4 L1853.9 380.9 L1855.9 378.5 L1857.9 376.1 L1859.9 373.7 L1861.9 371.4 L1863.9 369.1 L1865.9 366.8 L1867.9 364.6 L1869.9 362.4 L1871.9 360.2 L1873.9 358.1 L1875.9 355.9 L1877.9 353.8 L1879.9 351.6 L1881.9 349.4 L1883.9 347.2 L1885.9 344.9 L1887.9 342.7 L1889.9 340.4 L1891.9 338.2 L1893.9 336.0 L1895.9 333.9 L1897.9 331.8 L1899.9 329.7 L1901.9 327.7 L1903.9 325.7 L1905.9 323.7 L1907.9 321.7 L1909.9 319.8 L1911.9 317.8 L1913.9 315.8 L1915.9 313.8 L1917.9 311.8 L1919.9 309.7 L1921.9 307.7 L1923.9 305.7 L1925.9 303.7 L1927.9 301.7 L1929.9 299.8 L1931.9 297.9 L1933.9 296.0 L1935.9 294.1 L1937.9 292.3 L1939.9 290.5 L1941.9 288.7 L1943.9 287.0 L1945.9 285.2 L1947.9 283.4 L1949.9 281.7 L1951.9 280.0 L1953.9 278.2 L1955.9 276.5 L1957.9 274.8 L1959.9 273.2 L1961.9 271.5 L1963.9 269.9 L1965.9 268.3 L1967.9 266.8 L1969.9 265.3 L1971.9 263.8 L1973.9 262.3 L1975.9 260.8 L1977.9 259.3 L1979.9 257.8 L1981.9 256.3 L1983.9 254.8 L1985.9 253.3 L1987.9 251.8 L1989.9 250.3 L1991.9 248.8 L1994.0 247.3 L1996.0 245.9 L1998.0 244.4 L2000.0 243.0 L2002.0 241.5 L2004.0 240.1 L2006.0 238.7 L2008.0 237.2 L2010.0 235.8 L2012.0 234.5 L2014.0 233.1 L2016.0 231.8 L2018.0 230.4 L2020.0 229.1 L2022.0 227.8 L2024.0 226.5 L2026.0 225.3 L2028.0 224.0 L2030.0 222.8 L2032.0 221.5 L2034.0 220.3 L2036.0 219.0 L2038.0 217.8 L2040.0 216.6 L2042.0 215.4 L2044.0 214.2 L2046.0 213.0 L2048.0 211.9 L2050.0 210.7 L2052.0 209.6 L2054.0 208.5 L2056.0 207.4 L2058.0 206.3 L2060.0 205.2 L2062.0 204.2 L2064.0 203.1 L2066.0 202.0 L2068.0 200.9 L2070.0 199.8 L2072.0 198.8 L2074.0 197.7" fill="none" stroke="#BF0000" stroke-width="10" stroke-linejoin="round" stroke-linecap="butt"/>
<path d="M175.0 1592.0 L178.1 1592.0 L181.2 1592.0 L184.3 1592.0 L187.5 1592.0 L190.6 1592.0 L193.7 1592.0 L196.8 1592.0 L199.9 1592.0 L203.0 1592.0 L206.2 1592.0 L209.3 1592.0 L212.4 1592.0 L215.5 1592.0 L218.6 1592.0 L221.7 1592.0 L224.8 1592.0 L228.0 1592.0 L231.1 1592.0 L234.2 1592.0 L237.3 1592.0 L240.4 1592.0 L243.5 1592.0 L246.7 1592.0 L249.8 1592.0 L252.9 1592.0 L256.0 1592.0 L259.1 1592.0 L262.2 1592.0 L265.3 1592.0 L268.5 1592.0 L271.6 1592.0 L274.7 1592.0 L277.8 1592.0 L280.9 1592.0 L284.0 1592.0 L287.1 1592.0 L290.3 1592.0 L293.4 1592.0 L296.5 1592.0 L299.6 1592.0 L302.7 1592.0 L305.8 1592.0 L309.0 1592.0 L312.1 1592.0 L315.2 1592.0 L318.3 1592.0 L321.4 1592.0 L324.5 1592.0 L327.6 1592.0 L330.8 1592.0 L333.9 1592.0 L337.0 1592.0 L340.1 1592.0 L343.2 1592.0 L346.3 1592.0 L349.5 1592.0 L352.6 1592.0 L355.7 1592.0 L358.8 1592.0 L361.9 1592.0 L365.0 1592.0 L368.1 1592.0 L371.3 1592.0 L374.4 1592.0 L377.5 1592.0 L380.6 1592.0 L383.7 1592.0 L386.8 1592.0 L390.0 1592.0 L393.1 1592.0 L396.2 1592.0 L399.3 1592.0 L402.4 1592.0 L405.5 1592.0 L408.6 1592.0 L411.8 1592.0 L414.9 1592.0 L418.0 1592.0 L421.1 1592.0 L424.2 1592.0 L427.3 1592.0 L430.5 1592.0 L433.6 1592.0 L436.7 1592.0 L439.8 1592.0 L442.9 1592.0 L446.0 1592.0 L449.1 1592.0 L452.3 1592.0 L455.4 1592.0 L458.5 1592.0 L461.6 1592.0 L464.7 1592.0 L467.8 1592.0 L470.9 1592.0 L474.1 1592.0 L477.2 1592.0 L480.3 1592.0 L483.4 1592.0 L486.5 1592.0 L489.6 1592.0 L492.8 1592.0 L495.9 1591.9 L499.0 1591.9 L502.1 1591.9 L505.2 1591.9 L508.3 1591.9 L557.3 1591.1 L560.4 1591.1 L563.5 1591.1 L566.6 1591.0 L569.7 1591.0 L572.8 1591.0 L575.9 1591.0 L579.0 1590.9 L582.1 1590.9 L585.2 1590.9 L588.3 1590.9 L591.4 1590.8 L594.6 1590.8 L597.7 1590.8 L600.8 1590.7 L603.9 1590.7 L607.0 1590.7 L610.1 1590.6 L613.2 1590.6 L616.3 1590.6 L619.4 1590.6 L622.5 1590.5 L625.6 1590.5 L628.7 1590.5 L631.8 1590.4 L634.9 1590.4 L638.0 1590.4 L641.1 1590.3 L644.3 1590.3 L647.4 1590.3 L650.5 1590.2 L653.6 1590.2 L656.7 1590.2 L659.8 1590.1 L662.9 1590.1 L666.0 1590.0 L669.1 1590.0 L672.2 1590.0 L675.3 1589.9 L678.4 1589.9 L681.5 1589.9 L684.6 1589.8 L687.7 1589.8 L690.9 1589.8 L694.0 1589.7 L697.1 1589.7 L700.2 1589.7 L703.3 1589.6 L706.4 1589.6 L709.5 1589.6 L712.6 1589.6 L715.7 1589.5 L718.8 1589.5 L721.9 1589.5 L725.0 1589.5 L728.1 1589.5 L731.2 1589.5 L734.3 1589.5 L737.4 1589.4 L740.6 1589.4 L743.7 1589.4 L746.8 1589.4 L749.9 1589.4 L753.0 1589.4 L756.1 1589.4 L759.2 1589.4 L762.3 1589.4 L765.4 1589.4 L768.5 1589.4 L771.6 1589.4 L774.7 1589.4 L777.8 1589.4 L780.9 1589.4 L784.0 1589.3 L787.1 1589.3 L790.3 1589.3 L793.4 1589.3 L796.5 1589.3 L799.6 1589.3 L802.7 1589.3 L805.8 1589.3 L808.9 1589.3 L812.0 1589.3 L815.1 1589.3 L818.2 1589.3 L821.3 1589.3 L824.4 1589.3 L827.5 1589.3 L830.6 1589.3 L833.7 1589.3 L836.8 1589.3 L840.0 1589.3 L843.1 1589.3 L846.2 1589.3 L849.3 1589.3 L852.4 1589.3 L855.5 1589.3 L858.6 1589.3 L861.7 1589.3 L864.8 1589.3 L867.9 1589.3 L871.0 1589.3 L874.1 1589.3 L877.2 1589.3 L880.3 1589.3 L883.4 1589.3 L886.5 1589.3 L889.7 1589.3 L892.8 1589.3 L895.9 1589.3 L899.0 1589.3 L902.1 1589.3 L905.2 1589.3 L908.3 1589.3 L911.4 1589.3 L914.5 1589.3 L917.6 1589.3 L920.7 1589.3 L923.8 1589.3 L926.9 1589.3 L930.0 1589.3 L933.1 1589.3 L936.3 1589.3 L939.4 1589.3 L942.5 1589.3 L945.6 1589.3 L948.7 1589.3 L951.8 1589.3 L954.9 1589.3 L958.0 1589.3 L961.1 1589.3 L964.2 1589.3 L967.3 1589.3 L970.4 1589.3 L973.5 1589.3 L976.6 1589.3 L979.7 1589.3 L982.8 1589.3 L986.0 1589.3 L989.1 1589.3 L992.2 1589.3 L995.3 1589.3 L998.4 1589.3 L1001.5 1589.3 L1004.6 1589.3 L1007.7 1589.3 L1010.8 1589.3 L1013.9 1589.3 L1017.0 1589.3 L1020.1 1589.3 L1023.2 1589.3 L1026.3 1589.3 L1029.4 1589.3 L1032.5 1589.3 L1035.7 1589.3 L1038.8 1589.3 L1041.9 1589.3 L1045.0 1589.3 L1048.1 1589.3 L1051.2 1589.3 L1054.3 1589.3 L1057.4 1589.3 L1060.5 1589.3 L1063.6 1589.3 L1066.7 1589.3 L1069.8 1589.3 L1072.9 1589.3 L1076.0 1589.3 L1079.1 1589.3 L1082.2 1589.3 L1085.4 1589.3 L1088.5 1589.3 L1091.6 1589.3 L1094.7 1589.3 L1097.8 1589.3 L1100.9 1589.3 L1104.0 1589.3 L1107.1 1589.3 L1110.2 1589.3 L1113.3 1589.3 L1116.4 1589.3 L1119.5 1589.3 L1122.6 1589.3 L1125.7 1589.3 L1128.8 1589.3 L1131.9 1589.3 L1135.1 1589.3 L1138.2 1589.3 L1141.3 1589.3 L1144.4 1589.3 L1147.5 1589.3 L1150.6 1589.3 L1153.7 1589.3 L1156.8 1589.3 L1159.9 1589.3 L1163.0 1589.3 L1166.1 1589.3 L1169.2 1589.3 L1172.3 1589.3 L1175.4 1589.2 L1178.5 1589.2 L1181.7 1589.2 L1184.8 1589.2 L1187.9 1589.2 L1191.0 1589.2 L1194.1 1589.2 L1197.2 1589.2 L1200.3 1589.2 L1203.4 1589.2 L1206.5 1589.1 L1209.6 1589.1 L1212.7 1589.1 L1215.8 1589.1 L1218.9 1589.1 L1222.0 1589.1 L1225.1 1589.0 L1228.2 1589.0 L1231.4 1589.0 L1234.5 1589.0 L1237.6 1588.9 L1240.7 1588.9 L1243.8 1588.9 L1246.9 1588.9 L1250.0 1588.8 L1253.1 1588.8 L1256.2 1588.7 L1259.3 1588.7 L1262.4 1588.6 L1265.5 1588.5 L1268.6 1588.4 L1271.7 1588.3 L1274.8 1588.2 L1277.9 1588.1 L1281.1 1588.0 L1284.2 1587.8 L1287.3 1587.7 L1290.4 1587.6 L1293.5 1587.5 L1296.6 1587.4 L1299.7 1587.3 L1302.8 1587.2 L1305.9 1587.1 L1309.0 1587.0 L1312.1 1586.9 L1315.2 1586.8 L1318.3 1586.7 L1321.4 1586.6 L1324.5 1586.6 L1327.6 1586.5 L1330.8 1586.4 L1333.9 1586.3 L1337.0 1586.2 L1340.1 1586.1 L1343.2 1586.0 L1346.3 1585.9 L1349.4 1585.7 L1352.5 1585.6 L1355.6 1585.5 L1358.7 1585.4 L1361.8 1585.2 L1364.9 1585.1 L1368.0 1585.0 L1371.1 1584.8 L1374.2 1584.7 L1377.3 1584.5 L1380.5 1584.4 L1383.6 1584.2 L1386.7 1584.1 L1389.8 1583.9 L1392.9 1583.8 L1396.0 1583.6 L1399.1 1583.4 L1402.2 1583.3 L1405.3 1583.1 L1408.4 1582.9 L1411.5 1582.7 L1414.6 1582.5 L1417.7 1582.2 L1420.8 1582.0 L1423.9 1581.8 L1427.1 1581.6 L1430.2 1581.5 L1433.3 1581.3 L1436.4 1581.1 L1439.5 1581.0 L1442.6 1580.9 L1445.7 1580.7 L1448.8 1580.6 L1451.9 1580.5 L1455.0 1580.4 L1458.1 1580.3 L1461.2 1580.1 L1464.3 1580.0 L1467.4 1579.9 L1470.5 1579.8 L1473.6 1579.7 L1476.8 1579.6 L1479.9 1579.5 L1483.0 1579.4 L1486.1 1579.3 L1489.2 1579.1 L1492.3 1579.0 L1495.4 1578.9 L1498.5 1578.8 L1501.6 1578.7 L1504.7 1578.6 L1507.8 1578.5 L1510.9 1578.4 L1514.0 1578.3 L1517.1 1578.1 L1520.2 1578.0 L1523.3 1577.9 L1526.5 1577.9 L1529.6 1577.8 L1532.7 1577.7 L1535.8 1577.6 L1538.9 1577.5 L1542.0 1577.4 L1545.1 1577.3 L1548.2 1577.3 L1551.3 1577.2 L1554.4 1577.1 L1557.5 1577.0 L1560.6 1577.0 L1563.7 1576.9 L1566.8 1576.8 L1569.9 1576.8 L1573.0 1576.7 L1576.2 1576.6 L1579.3 1576.6 L1582.4 1576.5 L1585.5 1576.4 L1588.7 1576.2 L1591.8 1576.1 L1595.0 1575.9 L1598.1 1575.8 L1601.3 1575.6 L1604.4 1575.4 L1607.6 1575.2 L1610.7 1575.0 L1613.9 1574.8 L1617.0 1574.5 L1620.2 1574.3 L1623.3 1574.1 L1626.5 1573.9 L1629.6 1573.6 L1632.8 1573.3 L1635.9 1573.1 L1639.1 1572.8 L1642.2 1572.5 L1645.4 1572.2 L1648.5 1571.8 L1651.7 1571.5 L1654.8 1571.2 L1658.0 1570.8 L1661.1 1570.5 L1664.3 1570.1 L1667.4 1569.7 L1670.6 1569.3 L1673.7 1568.9 L1676.9 1568.4 L1680.0 1568.1 L1683.2 1567.7 L1686.3 1567.3 L1689.4 1567.0 L1692.6 1566.6 L1695.7 1566.3 L1698.9 1565.9 L1702.0 1565.5 L1705.2 1565.2 L1708.3 1564.8 L1711.5 1564.4 L1714.6 1564.0 L1717.8 1563.6 L1720.9 1563.2 L1724.1 1562.7 L1727.2 1562.4 L1730.4 1562.0 L1733.5 1561.7 L1736.7 1561.4 L1739.8 1561.1 L1743.0 1560.8 L1746.1 1560.5 L1749.3 1560.3 L1752.4 1560.1 L1755.6 1559.9 L1758.7 1559.7 L1761.8 1559.6 L1764.9 1559.4 L1768.0 1559.2 L1771.2 1559.1 L1774.3 1558.9 L1777.4 1558.8 L1780.5 1558.6 L1783.7 1558.5 L1786.8 1558.4 L1789.9 1558.2 L1793.0 1558.1 L1796.1 1558.0 L1799.3 1557.9 L1802.4 1557.7 L1805.5 1557.6 L1808.6 1557.5 L1811.8 1557.4 L1814.9 1557.3 L1818.0 1557.2 L1821.1 1557.1 L1824.2 1557.0 L1827.4 1556.8 L1830.5 1556.7 L1833.6 1556.6 L1836.7 1556.5 L1839.9 1556.4 L1843.0 1556.3 L1846.1 1556.2 L1849.2 1556.1 L1852.3 1556.0 L1855.5 1555.8 L1858.6 1555.7 L1861.7 1555.6 L1864.8 1555.5 L1868.0 1555.4 L1871.1 1555.3 L1874.2 1555.1 L1877.3 1555.0 L1880.4 1554.9 L1883.6 1554.8 L1886.7 1554.7 L1889.8 1554.6 L1892.9 1554.5 L1896.0 1554.4 L1899.2 1554.3 L1902.3 1554.2 L1905.4 1554.1 L1908.5 1554.0 L1911.7 1553.9 L1914.8 1553.9 L1917.9 1553.8 L1921.0 1553.7 L1924.1 1553.6 L1927.3 1553.5 L1930.4 1553.4 L1933.5 1553.4 L1936.6 1553.3 L1939.8 1553.2 L1942.9 1553.1 L1946.0 1553.0 L1949.1 1553.0 L1952.2 1552.9 L1955.4 1552.8 L1958.5 1552.7 L1961.6 1552.7 L1964.7 1552.6 L1967.9 1552.5 L1971.0 1552.4 L1974.1 1552.4 L1977.2 1552.3 L1980.3 1552.2 L1983.5 1552.1 L1986.6 1552.1 L1989.7 1552.0 L1992.8 1551.9 L1996.0 1551.9 L1999.1 1551.8 L2002.2 1551.7 L2005.3 1551.7 L2008.4 1551.6 L2011.6 1551.6 L2014.7 1551.5 L2017.8 1551.4 L2020.9 1551.4 L2024.0 1551.3 L2027.2 1551.3 L2030.3 1551.2 L2033.4 1551.1 L2036.5 1551.1 L2039.7 1551.0 L2042.8 1551.0 L2045.9 1550.9 L2049.0 1550.9 L2052.1 1550.8 L2055.3 1550.8 L2058.4 1550.7 L2061.5 1550.7 L2064.6 1550.6 L2067.8 1550.6 L2070.9 1550.5 L2074.0 1550.5" fill="none" stroke="#EDB120" stroke-width="10" stroke-linejoin="round" stroke-linecap="butt"/>
<path d="M175.0 1592.0 L177.0 1592.0 L179.0 1592.0 L181.0 1592.0 L183.0 1592.0 L185.0 1592.0 L187.0 1592.0 L189.0 1592.0 L191.0 1592.0 L193.0 1592.0 L195.0 1592.0 L197.0 1592.0 L199.0 1592.0 L201.0 1592.0 L203.0 1592.0 L205.0 1592.0 L207.0 1592.0 L209.0 1592.0 L211.0 1592.0 L213.0 1592.0 L215.0 1592.0 L217.0 1592.0 L219.1 1592.0 L221.1 1592.0 L223.1 1592.0 L225.1 1592.0 L227.1 1592.0 L229.1 1592.0 L231.1 1592.0 L233.1 1592.0 L235.1 1592.0 L237.1 1592.0 L239.1 1592.0 L241.1 1592.0 L243.1 1592.0 L245.1 1592.0 L247.1 1592.0 L249.1 1592.0 L251.1 1592.0 L253.1 1592.0 L255.1 1592.0 L257.1 1592.0 L259.1 1592.0 L261.1 1592.0 L263.1 1592.0 L265.1 1592.0 L267.1 1592.0 L269.1 1592.0 L271.1 1592.0 L273.1 1592.0 L275.1 1592.0 L277.1 1592.0 L279.1 1592.0 L281.1 1592.0 L283.1 1592.0 L285.1 1592.0 L287.1 1592.0 L289.1 1592.0 L291.1 1592.0 L293.1 1592.0 L295.1 1592.0 L297.1 1592.0 L299.1 1592.0 L301.1 1592.0 L303.2 1592.0 L305.2 1592.0 L307.2 1592.0 L309.2 1592.0 L311.2 1592.0 L313.2 1592.0 L315.2 1592.0 L317.2 1592.0 L319.2 1592.0 L321.2 1592.0 L323.2 1592.0 L325.2 1592.0 L327.2 1592.0 L329.2 1592.0 L331.2 1592.0 L333.2 1592.0 L335.2 1592.0 L337.2 1592.0 L339.2 1592.0 L341.2 1592.0 L343.2 1592.0 L345.2 1592.0 L347.2 1592.0 L349.2 1592.0 L351.2 1592.0 L353.2 1592.0 L355.2 1592.0 L357.2 1592.0 L359.2 1592.0 L361.2 1592.0 L363.2 1592.0 L365.2 1592.0 L367.2 1592.0 L369.2 1592.0 L371.2 1592.0 L373.2 1592.0 L375.2 1592.0 L377.2 1592.0 L379.2 1592.0 L381.2 1592.0 L383.2 1592.0 L385.2 1591.9 L387.2 1591.8 L389.3 1591.7 L391.3 1591.6 L393.3 1591.4 L395.3 1591.3 L397.3 1591.1 L399.3 1590.9 L401.3 1590.6 L403.3 1590.4 L405.3 1590.2 L407.3 1589.9 L409.3 1589.6 L411.3 1589.3 L413.3 1589.0 L415.3 1588.7 L417.3 1588.4 L419.3 1588.1 L421.3 1587.8 L423.3 1587.3 L425.3 1586.8 L427.3 1586.2 L429.3 1585.6 L431.3 1584.9 L433.3 1584.1 L435.3 1583.4 L436.0 1583.1" fill="none" stroke="#0072BD" stroke-width="10" stroke-linejoin="round" stroke-linecap="butt" stroke-dasharray="36 34" stroke-dashoffset="0.0"/>
<path d="M436.0 1583.1 L437.3 1582.6 L439.3 1581.7 L441.3 1580.9 L443.3 1580.2 L445.3 1579.4 L447.3 1578.7 L449.3 1578.0 L451.3 1577.4 L453.3 1576.8 L455.3 1576.3 L457.3 1575.8 L459.3 1575.3 L461.3 1574.8 L463.3 1574.3 L465.3 1573.9 L467.3 1573.4 L469.3 1572.9 L471.3 1572.3 L473.4 1571.8 L475.4 1571.1 L477.4 1570.5 L479.4 1569.9 L481.4 1569.3 L483.4 1568.8 L485.4 1568.3 L487.4 1568.0 L489.4 1567.8 L491.4 1567.5 L493.4 1567.3 L495.4 1567.2 L497.4 1567.0 L499.4 1566.9 L501.4 1566.7 L503.4 1566.6 L505.4 1566.5 L505.4 1566.5" fill="none" stroke="#0072BD" stroke-width="10" stroke-linejoin="round" stroke-linecap="butt" stroke-dasharray="36 34" stroke-dashoffset="53.0"/>
<path d="M505.4 1566.5 L507.4 1566.4 L509.4 1566.2 L511.4 1566.1 L513.4 1566.0 L515.4 1565.9 L517.4 1565.8 L519.4 1565.7 L521.4 1565.7 L523.4 1565.7 L525.4 1565.7 L527.4 1565.7 L529.4 1565.8 L531.4 1565.8 L533.4 1565.8 L535.4 1565.9 L537.4 1565.9 L539.4 1565.9 L541.4 1565.9 L543.4 1565.7 L545.4 1565.5 L547.4 1565.2 L549.4 1564.9 L551.4 1564.6 L553.4 1564.3 L555.4 1564.1 L557.4 1564.0 L559.5 1564.0 L561.5 1564.1 L563.5 1564.4 L565.5 1564.7 L567.5 1565.0 L569.5 1565.4 L571.5 1565.8 L573.5 1566.2 L575.1 1566.5" fill="none" stroke="#0072BD" stroke-width="10" stroke-linejoin="round" stroke-linecap="butt" stroke-dasharray="36 34" stroke-dashoffset="53.0"/>
<path d="M575.1 1566.5 L575.5 1566.6 L577.5 1567.0 L579.5 1567.5 L581.5 1568.0 L583.5 1568.6 L585.5 1569.1 L587.5 1569.5 L589.5 1569.8 L591.5 1570.0 L593.5 1570.1 L595.5 1570.1 L597.5 1570.2 L599.5 1570.2 L601.5 1570.3 L603.5 1570.3 L605.5 1570.3 L607.5 1570.4 L609.5 1570.4 L611.5 1570.5 L613.5 1570.6 L615.5 1570.8 L617.5 1571.0 L619.5 1571.3 L621.5 1571.6 L623.5 1572.0 L625.5 1572.3 L627.5 1572.6 L629.5 1573.0 L631.5 1573.4 L633.5 1573.8 L635.5 1574.2 L637.5 1574.6 L639.5 1575.1 L641.5 1575.6 L643.6 1576.0 L643.8 1576.1" fill="none" stroke="#0072BD" stroke-width="10" stroke-linejoin="round" stroke-linecap="butt" stroke-dasharray="36 34" stroke-dashoffset="53.0"/>
<path d="M643.8 1576.1 L645.6 1576.5 L647.6 1577.0 L649.6 1577.5 L651.6 1578.0 L653.6 1578.4 L655.6 1578.9 L657.6 1579.3 L659.6 1579.7 L661.6 1580.1 L663.6 1580.5 L665.6 1580.9 L667.6 1581.2 L669.6 1581.6 L671.6 1581.9 L673.6 1582.3 L675.6 1582.6 L677.6 1583.0 L679.6 1583.3 L681.6 1583.7 L683.6 1584.0 L685.6 1584.3 L687.6 1584.6 L689.6 1584.9 L691.6 1585.2 L693.6 1585.5 L695.6 1585.7 L697.6 1586.0 L699.6 1586.3 L701.6 1586.5 L703.6 1586.8 L705.6 1587.0 L707.6 1587.2 L709.6 1587.5 L711.6 1587.7 L712.9 1587.9" fill="none" stroke="#0072BD" stroke-width="10" stroke-linejoin="round" stroke-linecap="butt" stroke-dasharray="36 34" stroke-dashoffset="53.0"/>
<path d="M712.9 1587.9 L713.6 1587.9 L715.6 1588.2 L717.6 1588.4 L719.6 1588.6 L721.6 1588.8 L723.6 1589.0 L725.6 1589.2 L727.6 1589.3 L729.7 1589.5 L731.7 1589.7 L733.7 1589.8 L735.7 1590.0 L737.7 1590.1 L739.7 1590.3 L741.7 1590.4 L743.7 1590.6 L745.7 1590.7 L747.7 1590.8 L749.7 1590.9 L751.7 1591.1 L753.7 1591.2 L755.7 1591.3 L757.7 1591.4 L759.7 1591.4 L761.7 1591.5 L763.7 1591.6 L765.7 1591.6 L767.7 1591.7 L769.7 1591.7 L771.7 1591.7 L773.7 1591.8 L775.7 1591.8 L777.7 1591.8 L779.7 1591.8 L781.7 1591.9 L783.0 1591.9" fill="none" stroke="#0072BD" stroke-width="10" stroke-linejoin="round" stroke-linecap="butt" stroke-dasharray="36 34" stroke-dashoffset="53.0"/>
<path d="M783.0 1591.9 L783.7 1591.9 L785.7 1591.9 L787.7 1591.9 L789.7 1592.0 L791.7 1592.0 L793.7 1592.0 L795.7 1592.0 L797.7 1592.0 L799.7 1592.0 L801.7 1592.0 L803.7 1592.0 L805.7 1592.0 L807.7 1592.0 L809.7 1592.0 L811.7 1592.0 L813.8 1592.0 L815.8 1592.0 L817.8 1592.0 L819.8 1592.0 L821.8 1592.0 L823.8 1592.0 L825.8 1592.0 L827.8 1592.0 L829.8 1592.0 L831.8 1592.0 L833.8 1592.0 L835.8 1592.0 L837.8 1592.0 L839.8 1592.0 L841.8 1592.0 L843.8 1592.0 L845.8 1592.0 L847.8 1592.0 L849.8 1592.0 L851.8 1592.0 L852.0 1592.0" fill="none" stroke="#0072BD" stroke-width="10" stroke-linejoin="round" stroke-linecap="butt" stroke-dasharray="36 34" stroke-dashoffset="53.0"/>
<path d="M852.0 1592.0 L853.8 1592.0 L855.8 1592.0 L857.8 1592.0 L859.8 1592.0 L861.8 1592.0 L863.8 1592.0 L865.8 1592.0 L867.8 1592.0 L869.8 1592.0 L871.8 1592.0 L873.8 1592.0 L875.8 1592.0 L877.8 1592.0 L879.8 1592.0 L881.8 1592.0 L883.8 1592.0 L885.8 1592.0 L887.8 1592.0 L889.8 1592.0 L891.8 1592.0 L893.8 1592.0 L895.8 1592.0 L897.9 1592.0 L899.9 1592.0 L901.9 1592.0 L903.9 1592.0 L905.9 1592.0 L907.9 1592.0 L909.9 1592.0 L911.9 1592.0 L913.9 1592.0 L915.9 1592.0 L917.9 1592.0 L919.9 1592.0 L921.9 1592.0 L921.9 1592.0" fill="none" stroke="#0072BD" stroke-width="10" stroke-linejoin="round" stroke-linecap="butt" stroke-dasharray="36 34" stroke-dashoffset="53.0"/>
<path d="M921.9 1592.0 L923.9 1592.0 L925.9 1592.0 L927.9 1592.0 L929.9 1592.0 L931.9 1592.0 L933.9 1592.0 L935.9 1592.0 L937.9 1592.0 L939.9 1592.0 L941.9 1592.0 L943.9 1592.0 L945.9 1592.0 L947.9 1592.0 L949.9 1592.0 L951.9 1592.0 L953.9 1592.0 L955.9 1592.0 L957.9 1592.0 L959.9 1592.0 L961.9 1592.0 L963.9 1592.0 L965.9 1592.0 L967.9 1592.0 L969.9 1592.0 L971.9 1592.0 L973.9 1592.0 L975.9 1592.0 L977.9 1592.0 L979.9 1592.0 L981.9 1592.0 L984.0 1592.0 L986.0 1592.0 L988.0 1592.0 L990.0 1592.0 L991.8 1592.0" fill="none" stroke="#0072BD" stroke-width="10" stroke-linejoin="round" stroke-linecap="butt" stroke-dasharray="36 34" stroke-dashoffset="53.0"/>
<path d="M991.8 1592.0 L992.0 1592.0 L994.0 1592.0 L996.0 1592.0 L998.0 1592.0 L1000.0 1592.0 L1002.0 1592.0 L1004.0 1592.0 L1006.0 1592.0 L1008.0 1592.0 L1010.0 1592.0 L1012.0 1592.0 L1014.0 1592.0 L1016.0 1592.0 L1018.0 1592.0 L1020.0 1592.0 L1022.0 1592.0 L1024.0 1592.0 L1026.0 1592.0 L1028.0 1592.0 L1030.0 1592.0 L1032.0 1592.0 L1034.0 1592.0 L1036.0 1592.0 L1038.0 1592.0 L1040.0 1592.0 L1042.0 1592.0 L1044.0 1592.0 L1046.0 1592.0 L1048.0 1592.0 L1050.0 1592.0 L1052.0 1592.0 L1054.0 1592.0 L1056.0 1592.0 L1058.0 1592.0 L1060.0 1592.0 L1061.8 1592.0" fill="none" stroke="#0072BD" stroke-width="10" stroke-linejoin="round" stroke-linecap="butt" stroke-dasharray="36 34" stroke-dashoffset="53.0"/>
<path d="M1061.8 1592.0 L1062.0 1592.0 L1064.0 1592.0 L1066.0 1592.0 L1068.1 1592.0 L1070.1 1592.0 L1072.1 1592.0 L1074.1 1592.0 L1076.1 1592.0 L1078.1 1592.0 L1080.1 1592.0 L1082.1 1591.9 L1084.1 1591.8 L1086.1 1591.7 L1088.1 1591.6 L1090.1 1591.4 L1092.1 1591.2 L1094.1 1591.1 L1096.1 1590.9 L1098.1 1590.7 L1100.1 1590.5 L1102.1 1590.3 L1104.1 1590.1 L1106.1 1589.8 L1108.1 1589.5 L1110.1 1589.2 L1112.1 1588.9 L1114.1 1588.6 L1116.1 1588.3 L1118.1 1588.0 L1120.1 1587.6 L1122.1 1587.3 L1124.1 1586.9 L1126.1 1586.6 L1128.1 1586.2 L1130.1 1585.9 L1132.1 1585.5" fill="none" stroke="#0072BD" stroke-width="10" stroke-linejoin="round" stroke-linecap="butt" stroke-dasharray="36 34" stroke-dashoffset="53.0"/>
<path d="M1132.1 1585.5 L1132.1 1585.5 L1134.1 1585.1 L1136.1 1584.7 L1138.1 1584.3 L1140.1 1583.9 L1142.1 1583.5 L1144.1 1583.0 L1146.1 1582.6 L1148.1 1582.1 L1150.1 1581.7 L1152.1 1581.2 L1154.2 1580.7 L1156.2 1580.2 L1158.2 1579.7 L1160.2 1579.2 L1162.2 1578.7 L1164.2 1578.1 L1166.2 1577.5 L1168.2 1577.0 L1170.2 1576.3 L1172.2 1575.7 L1174.2 1575.1 L1176.2 1574.4 L1178.2 1573.7 L1180.2 1572.9 L1182.2 1572.1 L1184.2 1571.3 L1186.2 1570.3 L1188.2 1569.4 L1190.2 1568.3 L1192.2 1567.3 L1194.2 1566.2 L1196.2 1565.1 L1197.2 1564.6" fill="none" stroke="#0072BD" stroke-width="10" stroke-linejoin="round" stroke-linecap="butt" stroke-dasharray="36 34" stroke-dashoffset="53.0"/>
<path d="M1197.2 1564.6 L1198.2 1564.0 L1200.2 1562.9 L1202.2 1561.8 L1204.2 1560.6 L1206.2 1559.5 L1208.2 1558.2 L1210.2 1557.0 L1212.2 1555.6 L1214.2 1554.2 L1216.2 1552.7 L1218.2 1551.1 L1220.2 1549.4 L1222.2 1547.7 L1224.2 1546.0 L1226.2 1544.2 L1228.2 1542.5 L1230.2 1540.7 L1232.2 1538.9 L1234.2 1537.2 L1236.2 1535.4 L1238.3 1533.8 L1240.3 1532.2 L1242.3 1530.6 L1244.3 1529.1 L1246.3 1527.6 L1248.3 1526.2 L1250.3 1524.7 L1252.3 1523.2 L1253.0 1522.7" fill="none" stroke="#0072BD" stroke-width="10" stroke-linejoin="round" stroke-linecap="butt" stroke-dasharray="36 34" stroke-dashoffset="53.0"/>
<path d="M1253.0 1522.7 L1254.3 1521.8 L1256.3 1520.3 L1258.3 1518.7 L1260.3 1517.1 L1262.3 1515.4 L1264.3 1513.6 L1266.3 1511.7 L1268.3 1509.7 L1270.3 1507.5 L1272.3 1505.2 L1274.3 1502.8 L1276.3 1500.3 L1278.3 1497.7 L1280.3 1495.1 L1297.0 1492.2 L1299.0 1489.5 L1301.0 1486.8 L1303.1 1484.3 L1305.1 1481.8 L1306.9 1479.7" fill="none" stroke="#0072BD" stroke-width="10" stroke-linejoin="round" stroke-linecap="butt" stroke-dasharray="36 34" stroke-dashoffset="53.0"/>
<path d="M1306.9 1479.7 L1307.1 1479.5 L1309.1 1477.3 L1311.1 1475.2 L1313.2 1473.3 L1315.2 1471.6 L1317.2 1470.0 L1319.2 1468.6 L1321.2 1467.4 L1323.3 1466.4 L1325.3 1465.4 L1327.3 1464.6 L1329.3 1463.8 L1331.3 1463.0 L1333.4 1462.3 L1335.4 1461.5 L1337.4 1460.7 L1339.4 1459.9 L1341.4 1459.0 L1343.5 1458.0 L1345.5 1457.0 L1347.5 1456.0 L1349.5 1455.1 L1351.5 1454.2 L1353.6 1453.2 L1355.6 1452.3 L1357.6 1451.4 L1359.6 1450.6 L1361.7 1449.9 L1363.7 1449.4 L1365.7 1449.0 L1367.1 1448.9" fill="none" stroke="#0072BD" stroke-width="10" stroke-linejoin="round" stroke-linecap="butt" stroke-dasharray="36 34" stroke-dashoffset="53.0"/>
<path d="M1367.1 1448.9 L1367.7 1448.8 L1369.7 1448.6 L1371.8 1448.5 L1373.8 1448.3 L1375.8 1448.2 L1377.8 1448.1 L1379.8 1448.0 L1381.9 1447.9 L1383.9 1447.9 L1385.9 1447.9 L1387.9 1448.0 L1389.9 1448.2 L1392.0 1448.4 L1394.0 1448.8 L1396.0 1449.1 L1398.0 1449.6 L1400.0 1450.0 L1402.1 1450.6 L1404.1 1451.2 L1406.1 1451.8 L1408.1 1452.5 L1410.1 1453.3 L1412.2 1454.1 L1414.2 1454.9 L1416.2 1455.8 L1433.3 1465.1" fill="none" stroke="#0072BD" stroke-width="10" stroke-linejoin="round" stroke-linecap="butt" stroke-dasharray="36 34" stroke-dashoffset="53.0"/>
<path d="M1433.3 1465.1 L1448.2 1473.3 L1450.2 1473.5 L1452.2 1473.9 L1454.2 1474.5 L1456.2 1475.7 L1458.3 1477.7 L1460.3 1479.7 L1462.3 1481.7 L1464.3 1483.6 L1466.3 1485.4 L1468.3 1486.9 L1470.3 1488.3 L1472.3 1489.5 L1474.4 1490.7 L1476.4 1491.7 L1478.4 1492.7 L1480.4 1493.7 L1482.4 1494.6 L1484.4 1495.5 L1486.4 1496.4 L1488.4 1497.2 L1489.9 1497.8" fill="none" stroke="#0072BD" stroke-width="10" stroke-linejoin="round" stroke-linecap="butt" stroke-dasharray="36 34" stroke-dashoffset="53.0"/>
<path d="M1489.9 1497.8 L1490.5 1498.0 L1492.5 1498.8 L1494.5 1499.5 L1496.5 1500.1 L1498.5 1500.7 L1500.5 1498.8 L1502.5 1496.9 L1504.5 1495.0 L1506.5 1493.0 L1508.5 1491.0 L1510.5 1488.9 L1512.5 1486.8 L1514.6 1484.6 L1516.6 1482.3 L1518.6 1479.9 L1520.6 1477.3 L1522.6 1474.6 L1524.6 1471.7 L1526.6 1468.8 L1528.6 1466.0 L1530.6 1463.2 L1532.6 1460.3 L1534.6 1457.4 L1536.6 1454.4 L1538.6 1451.2 L1538.7 1451.0" fill="none" stroke="#0072BD" stroke-width="10" stroke-linejoin="round" stroke-linecap="butt" stroke-dasharray="36 34" stroke-dashoffset="53.0"/>
<path d="M1538.7 1451.0 L1540.6 1447.8 L1542.6 1444.2 L1544.6 1440.5 L1546.7 1436.5 L1548.7 1432.4 L1550.7 1428.2 L1552.7 1423.9 L1554.7 1419.3 L1556.7 1414.6 L1558.7 1409.8 L1560.7 1404.8 L1562.7 1399.8 L1564.7 1394.6 L1566.7 1389.2 L1568.7 1383.7 L1570.7 1378.1 L1572.7 1372.4 L1574.7 1366.6 L1576.7 1360.4 L1578.8 1354.0 L1580.8 1347.9 L1582.8 1342.3 L1584.8 1337.4 L1586.8 1332.8 L1588.8 1328.4 L1590.8 1324.5 L1592.8 1320.9 L1594.8 1316.7 L1595.2 1315.8" fill="none" stroke="#0072BD" stroke-width="10" stroke-linejoin="round" stroke-linecap="butt" stroke-dasharray="36 34" stroke-dashoffset="53.0"/>
<path d="M1595.2 1315.8 L1596.8 1312.3 L1598.8 1308.0 L1600.8 1303.6 L1602.8 1299.1 L1604.8 1294.0 L1606.8 1288.7 L1608.8 1284.1 L1610.8 1281.0 L1612.8 1279.0 L1614.9 1277.4 L1616.9 1276.1 L1618.9 1274.9 L1620.9 1273.7 L1622.9 1272.4 L1624.9 1270.9 L1626.9 1269.1 L1628.9 1267.3 L1630.9 1265.6 L1632.9 1264.2 L1634.9 1263.2 L1635.7 1263.0" fill="none" stroke="#0072BD" stroke-width="10" stroke-linejoin="round" stroke-linecap="butt" stroke-dasharray="36 34" stroke-dashoffset="53.0"/>
<path d="M1635.7 1263.0 L1636.9 1262.8 L1638.9 1262.8 L1640.9 1263.0 L1642.9 1263.2 L1644.9 1263.5 L1646.9 1263.8 L1648.9 1264.2 L1650.9 1264.7 L1653.0 1265.2 L1655.0 1266.1 L1657.0 1267.5 L1659.0 1269.4 L1661.0 1271.7 L1663.0 1274.8 L1665.0 1280.5 L1667.0 1287.1 L1669.0 1292.6 L1671.0 1297.7 L1673.0 1302.6 L1675.0 1307.0 L1676.0 1308.8" fill="none" stroke="#0072BD" stroke-width="10" stroke-linejoin="round" stroke-linecap="butt" stroke-dasharray="36 34" stroke-dashoffset="53.0"/>
<path d="M1676.0 1308.8 L1677.0 1310.9 L1679.0 1314.3 L1681.0 1317.7 L1683.0 1321.1 L1685.0 1324.8 L1687.0 1328.5 L1689.0 1332.5 L1691.0 1336.9 L1693.0 1342.7 L1695.1 1349.9 L1697.1 1356.3 L1699.1 1360.9 L1701.1 1364.8 L1703.1 1368.4 L1705.1 1372.2 L1705.4 1372.7" fill="none" stroke="#0072BD" stroke-width="10" stroke-linejoin="round" stroke-linecap="butt" stroke-dasharray="36 34" stroke-dashoffset="53.0"/>
<path d="M1705.4 1372.7 L1707.1 1376.2 L1709.1 1380.3 L1711.1 1384.4 L1713.1 1388.6 L1715.1 1393.0 L1717.1 1397.4 L1719.1 1401.8 L1721.1 1406.2 L1723.1 1410.6 L1725.1 1414.9 L1727.1 1419.3 L1729.1 1423.5 L1731.1 1427.7 L1733.2 1431.9 L1735.2 1436.1 L1737.2 1440.3 L1739.2 1444.6 L1741.2 1449.3 L1743.2 1454.2 L1745.2 1458.7 L1747.2 1462.3 L1749.2 1465.1 L1751.2 1467.7 L1753.2 1469.9 L1755.2 1472.0 L1757.2 1474.0 L1759.2 1475.9 L1761.2 1477.8 L1763.2 1479.8 L1765.2 1481.7 L1767.2 1483.6 L1769.2 1485.5 L1771.2 1487.3 L1773.2 1489.1 L1775.3 1490.8 L1776.9 1492.2" fill="none" stroke="#0072BD" stroke-width="10" stroke-linejoin="round" stroke-linecap="butt" stroke-dasharray="36 34" stroke-dashoffset="53.0"/>
<path d="M1776.9 1492.2 L1777.3 1492.6 L1779.3 1494.3 L1781.3 1495.9 L1783.3 1497.6 L1785.3 1499.2 L1787.3 1500.8 L1789.3 1502.4 L1791.3 1504.0 L1793.3 1505.6 L1795.3 1507.2 L1797.3 1508.7 L1799.3 1510.3 L1801.3 1511.8 L1803.3 1513.3 L1805.3 1514.7 L1807.3 1516.2 L1809.3 1517.6 L1811.3 1519.0 L1813.3 1520.3 L1815.4 1521.6 L1817.4 1522.9 L1819.4 1524.1 L1821.4 1525.3 L1823.4 1526.5 L1825.4 1527.6 L1827.4 1528.7 L1829.4 1529.8 L1831.4 1530.9 L1833.4 1532.0 L1834.1 1532.4" fill="none" stroke="#0072BD" stroke-width="10" stroke-linejoin="round" stroke-linecap="butt" stroke-dasharray="36 34" stroke-dashoffset="53.0"/>
<path d="M1834.1 1532.4 L1835.4 1533.0 L1837.4 1534.1 L1839.4 1535.1 L1841.4 1536.1 L1843.4 1537.0 L1845.4 1538.0 L1847.4 1538.9 L1849.4 1539.8 L1851.4 1540.7 L1853.5 1541.7 L1855.5 1542.6 L1857.5 1543.6 L1859.5 1544.5 L1861.5 1545.5 L1863.5 1546.4 L1865.5 1547.3 L1867.5 1548.2 L1869.5 1549.0 L1871.5 1549.8 L1873.5 1550.5 L1875.5 1551.2 L1877.5 1551.8 L1879.5 1552.3 L1881.5 1552.7 L1883.5 1553.0 L1885.5 1553.3 L1887.5 1553.6 L1889.5 1553.9 L1891.5 1554.1 L1893.5 1554.3 L1895.6 1554.5 L1897.6 1554.7 L1899.6 1554.9 L1899.8 1554.9" fill="none" stroke="#0072BD" stroke-width="10" stroke-linejoin="round" stroke-linecap="butt" stroke-dasharray="36 34" stroke-dashoffset="53.0"/>
<path d="M1899.8 1554.9 L1901.6 1555.0 L1903.6 1555.2 L1905.6 1555.3 L1907.6 1555.5 L1909.6 1555.7 L1911.6 1555.9 L1913.6 1556.1 L1915.6 1556.3 L1917.6 1556.5 L1919.6 1556.7 L1921.6 1557.0 L1923.6 1557.2 L1925.6 1557.4 L1927.6 1557.6 L1929.6 1557.9 L1931.6 1558.1 L1933.7 1558.4 L1935.7 1558.6 L1937.7 1558.9 L1939.7 1559.1 L1941.7 1559.4 L1943.7 1559.7 L1945.7 1560.0 L1947.7 1560.3 L1949.7 1560.6 L1951.7 1561.0 L1953.7 1561.3 L1955.7 1561.7 L1957.7 1562.1 L1959.7 1562.6 L1961.7 1563.1 L1963.7 1563.6 L1965.7 1564.1 L1967.5 1564.5" fill="none" stroke="#0072BD" stroke-width="10" stroke-linejoin="round" stroke-linecap="butt" stroke-dasharray="36 34" stroke-dashoffset="53.0"/>
<path d="M1967.5 1564.5 L1967.7 1564.6 L1969.7 1565.1 L1971.7 1565.6 L1973.8 1566.1 L1975.8 1566.6 L1977.8 1567.1 L1979.8 1567.6 L1981.8 1568.1 L1983.8 1568.6 L1985.8 1569.0 L1987.8 1569.5 L1989.8 1569.9 L1991.8 1570.4 L1993.8 1570.9 L1995.8 1571.4 L1997.8 1571.9 L1999.8 1572.4 L2001.8 1572.9 L2003.8 1573.3 L2005.8 1573.7 L2007.8 1574.1 L2009.8 1574.5 L2011.8 1574.8 L2013.8 1575.1 L2015.9 1575.4 L2017.9 1575.6 L2019.9 1575.7 L2021.9 1575.9 L2023.9 1576.0 L2025.9 1576.1 L2027.9 1576.2 L2029.9 1576.3 L2031.9 1576.4 L2033.9 1576.5 L2035.9 1576.6 L2036.1 1576.6" fill="none" stroke="#0072BD" stroke-width="10" stroke-linejoin="round" stroke-linecap="butt" stroke-dasharray="36 34" stroke-dashoffset="53.0"/>
<path d="M2036.1 1576.6 L2037.9 1576.7 L2039.9 1576.8 L2041.9 1576.8 L2043.9 1576.9 L2045.9 1577.0 L2047.9 1577.1 L2049.9 1577.2 L2051.9 1577.3 L2053.9 1577.5 L2056.0 1577.6 L2058.0 1577.7 L2060.0 1577.9 L2062.0 1578.0 L2064.0 1578.2 L2066.0 1578.4 L2068.0 1578.6 L2070.0 1578.7 L2072.0 1578.9 L2074.0 1579.1" fill="none" stroke="#0072BD" stroke-width="10" stroke-linejoin="round" stroke-linecap="butt" stroke-dasharray="36 34" stroke-dashoffset="53.0"/>
<path d="M175.0 1592.0 L177.0 1592.0 L179.0 1592.0 L181.0 1592.0 L183.0 1592.0 L185.0 1592.0 L187.0 1592.0 L189.0 1592.0 L191.0 1592.0 L193.0 1592.0 L195.0 1592.0 L197.0 1592.0 L199.0 1592.0 L201.0 1592.0 L203.0 1592.0 L205.0 1592.0 L207.0 1592.0 L209.0 1592.0 L211.0 1592.0 L213.0 1592.0 L215.0 1592.0 L217.0 1592.0 L219.0 1592.0 L221.0 1592.0 L223.0 1592.0 L225.0 1592.0 L227.0 1592.0 L229.0 1592.0 L231.0 1592.0 L233.0 1592.0 L235.0 1592.0 L237.0 1592.0 L239.0 1592.0 L241.0 1592.0 L243.0 1592.0 L245.0 1592.0 L247.0 1592.0 L249.0 1592.0 L251.0 1592.0 L253.0 1592.0 L255.0 1592.0 L257.0 1592.0 L259.0 1592.0 L261.0 1592.0 L263.0 1592.0 L265.0 1592.0 L267.1 1592.0 L269.1 1592.0 L271.1 1592.0 L273.1 1592.0 L275.1 1592.0 L277.1 1592.0 L279.1 1592.0 L281.1 1592.0 L283.1 1592.0 L285.1 1592.0 L287.1 1592.0 L289.1 1592.0 L291.1 1592.0 L293.1 1592.0 L295.1 1592.0 L297.1 1592.0 L299.1 1592.0 L301.1 1592.0 L303.1 1592.0 L305.1 1592.0 L307.1 1592.0 L309.1 1592.0 L311.1 1592.0 L313.1 1592.0 L315.1 1592.0 L317.1 1592.0 L319.1 1592.0 L321.1 1592.0 L323.1 1592.0 L325.1 1592.0 L327.1 1592.0 L329.1 1592.0 L331.1 1592.0 L333.1 1592.0 L335.1 1592.0 L337.1 1592.0 L339.1 1592.0 L341.1 1592.0 L343.1 1592.0 L345.1 1592.0 L347.1 1592.0 L349.1 1592.0 L351.1 1592.0 L353.1 1592.0 L355.1 1592.0 L357.1 1592.0 L359.1 1592.0 L361.1 1592.0 L363.1 1592.0 L365.1 1592.0 L367.1 1592.0 L369.1 1592.0 L371.1 1592.0 L373.1 1592.0 L375.1 1592.0 L377.1 1592.0 L379.1 1592.0 L381.1 1592.0 L383.1 1592.0 L385.1 1592.0 L387.1 1592.0 L389.1 1592.0 L391.1 1592.0 L393.1 1592.0 L395.1 1592.0 L397.1 1592.0 L399.1 1592.0 L401.1 1592.0 L403.1 1592.0 L405.1 1592.0 L407.1 1592.0 L409.1 1592.0 L411.1 1592.0 L413.1 1592.0 L415.1 1592.0 L417.1 1592.0 L419.1 1592.0 L421.1 1592.0 L423.1 1592.0 L425.1 1592.0 L427.1 1592.0 L429.1 1592.0 L431.1 1591.9 L433.1 1591.9 L435.1 1591.9 L436.8 1591.9" fill="none" stroke="#BF0000" stroke-width="10" stroke-linejoin="round" stroke-linecap="butt" stroke-dasharray="36 34" stroke-dashoffset="0.0"/>
<path d="M436.8 1591.9 L437.1 1591.9 L439.1 1591.8 L441.1 1591.8 L443.1 1591.8 L445.1 1591.7 L447.2 1591.7 L449.2 1591.7 L451.2 1591.6 L453.2 1591.6 L455.2 1591.6 L457.2 1591.5 L459.2 1591.4 L461.2 1591.4 L463.2 1591.3 L465.2 1591.2 L467.2 1591.1 L469.2 1591.0 L471.2 1590.9 L473.2 1590.8 L475.2 1590.7 L477.2 1590.5 L479.2 1590.4 L481.2 1590.2 L483.2 1590.1 L485.2 1589.9 L487.2 1589.8 L489.2 1589.6 L491.2 1589.4 L493.2 1589.1 L495.2 1588.8 L497.2 1588.5 L499.2 1588.1 L501.2 1587.7 L503.2 1587.2 L505.2 1586.7 L506.0 1586.5" fill="none" stroke="#BF0000" stroke-width="10" stroke-linejoin="round" stroke-linecap="butt" stroke-dasharray="36 34" stroke-dashoffset="53.0"/>
<path d="M506.0 1586.5 L507.2 1586.2 L509.2 1585.7 L511.2 1585.2 L513.2 1584.6 L515.2 1584.1 L517.2 1583.5 L519.2 1583.0 L521.2 1582.5 L523.2 1582.0 L525.2 1581.5 L527.2 1581.0 L529.2 1580.5 L531.2 1580.1 L533.2 1579.6 L535.2 1579.1 L537.2 1578.6 L539.2 1578.1 L541.2 1577.5 L543.2 1577.0 L545.2 1576.5 L547.2 1575.9 L549.2 1575.3 L551.2 1574.7 L553.2 1574.1 L555.2 1573.4 L557.2 1572.7 L559.2 1572.0 L561.2 1571.2 L563.2 1570.3 L565.2 1569.3 L567.2 1568.3 L569.2 1567.3 L571.2 1566.3 L573.2 1565.3 L575.2 1564.4 L577.2 1563.6 L579.2 1562.8 L581.2 1562.0 L583.2 1561.2 L585.2 1560.4 L587.2 1559.7 L589.2 1559.0 L591.2 1558.3 L593.2 1557.6 L595.2 1556.9 L597.2 1556.2 L599.2 1555.6 L601.2 1554.9 L603.2 1554.3 L605.2 1553.6 L607.2 1553.0 L609.2 1552.4 L611.2 1551.8 L613.2 1551.1 L615.2 1550.5 L617.2 1549.9 L619.2 1549.2 L621.2 1548.6 L623.2 1547.9 L625.2 1547.3 L627.3 1546.6 L629.3 1546.0 L631.3 1545.3 L633.3 1544.7 L635.3 1544.0 L637.3 1543.4 L639.3 1542.7 L640.8 1542.2" fill="none" stroke="#BF0000" stroke-width="10" stroke-linejoin="round" stroke-linecap="butt" stroke-dasharray="36 34" stroke-dashoffset="53.0"/>
<path d="M640.8 1542.2 L641.3 1542.1 L643.3 1541.4 L645.3 1540.7 L647.3 1540.1 L649.3 1539.4 L651.3 1538.7 L653.3 1538.1 L655.3 1537.4 L657.3 1536.7 L659.3 1536.0 L661.3 1535.3 L663.3 1534.5 L665.3 1533.8 L667.3 1533.0 L669.3 1532.2 L671.3 1531.4 L673.3 1530.6 L675.3 1529.9 L677.3 1529.1 L679.3 1528.4 L681.3 1527.7 L683.3 1527.1 L685.3 1526.5 L687.3 1526.0 L689.3 1525.5 L691.3 1525.0 L693.3 1524.6 L695.3 1524.2 L697.3 1523.9 L699.3 1523.5 L701.3 1523.2 L703.3 1522.9 L705.3 1522.6 L707.2 1522.3" fill="none" stroke="#BF0000" stroke-width="10" stroke-linejoin="round" stroke-linecap="butt" stroke-dasharray="36 34" stroke-dashoffset="53.0"/>
<path d="M707.2 1522.3 L707.3 1522.3 L709.3 1522.0 L711.3 1521.8 L713.3 1521.5 L715.3 1521.2 L717.3 1520.9 L719.3 1520.6 L721.3 1520.3 L723.3 1520.0 L725.3 1519.7 L727.3 1519.4 L729.3 1519.0 L731.3 1518.7 L733.3 1518.3 L735.3 1518.0 L737.3 1517.6 L739.3 1517.3 L741.3 1516.9 L743.3 1516.6 L745.3 1516.2 L747.3 1515.9 L749.3 1515.6 L751.3 1515.2 L753.3 1514.9 L755.3 1514.6 L757.3 1514.3 L759.3 1514.0 L761.3 1513.7 L763.3 1513.5 L765.3 1513.2 L767.3 1513.0 L769.3 1512.7 L771.3 1512.4 L773.3 1512.2 L775.3 1512.0 L775.9 1511.9" fill="none" stroke="#BF0000" stroke-width="10" stroke-linejoin="round" stroke-linecap="butt" stroke-dasharray="36 34" stroke-dashoffset="53.0"/>
<path d="M775.9 1511.9 L777.3 1511.7 L779.3 1511.5 L781.3 1511.3 L783.3 1511.0 L785.3 1510.8 L787.3 1510.6 L789.3 1510.4 L791.3 1510.2 L793.3 1510.0 L795.3 1509.8 L797.3 1509.6 L799.3 1509.4 L801.3 1509.2 L803.3 1509.0 L805.3 1508.8 L807.4 1508.7 L809.4 1508.5 L811.4 1508.3 L813.4 1508.2 L815.4 1508.0 L817.4 1507.8 L819.4 1507.7 L821.4 1507.5 L823.4 1507.3 L825.4 1507.2 L827.4 1507.0 L829.4 1506.8 L831.4 1506.7 L833.4 1506.5 L835.4 1506.3 L837.4 1506.2 L839.4 1506.0 L841.4 1505.9 L843.4 1505.7 L845.4 1505.5 L845.9 1505.5" fill="none" stroke="#BF0000" stroke-width="10" stroke-linejoin="round" stroke-linecap="butt" stroke-dasharray="36 34" stroke-dashoffset="53.0"/>
<path d="M845.9 1505.5 L847.4 1505.4 L849.4 1505.2 L851.4 1505.1 L853.4 1504.9 L855.4 1504.8 L857.4 1504.6 L859.4 1504.5 L861.4 1504.3 L863.4 1504.2 L865.4 1504.0 L867.4 1503.9 L869.4 1503.8 L871.4 1503.6 L873.4 1503.5 L875.4 1503.4 L877.4 1503.2 L879.4 1503.1 L881.4 1502.9 L883.4 1502.7 L885.4 1502.5 L887.4 1502.2 L889.4 1502.0 L891.4 1501.7 L893.4 1501.5 L895.4 1501.2 L897.4 1500.9 L898.4 1508.6 L900.4 1508.6 L902.4 1508.6 L904.4 1508.7 L906.4 1508.7 L908.4 1508.7 L908.9 1508.7" fill="none" stroke="#BF0000" stroke-width="10" stroke-linejoin="round" stroke-linecap="butt" stroke-dasharray="36 34" stroke-dashoffset="53.0"/>
<path d="M908.9 1508.7 L910.4 1508.7 L912.4 1508.7 L914.4 1508.8 L916.5 1508.8 L918.5 1508.8 L920.5 1508.8 L922.5 1508.8 L924.5 1508.8 L926.5 1508.8 L928.5 1508.8 L930.5 1508.8 L932.5 1508.8 L934.5 1508.8 L936.5 1508.8 L938.5 1508.8 L940.5 1508.8 L942.5 1508.8 L944.5 1508.7 L946.5 1508.7 L948.6 1508.7 L950.6 1508.7 L952.6 1508.7 L954.6 1508.7 L956.6 1508.7 L958.6 1508.6 L960.6 1508.6 L962.6 1508.6 L964.6 1508.5 L966.6 1508.5 L968.6 1508.3 L970.6 1508.2 L972.6 1508.1 L974.6 1507.9 L976.6 1507.7 L978.6 1507.5 L978.9 1507.5" fill="none" stroke="#BF0000" stroke-width="10" stroke-linejoin="round" stroke-linecap="butt" stroke-dasharray="36 34" stroke-dashoffset="53.0"/>
<path d="M978.9 1507.5 L980.7 1507.3 L982.7 1507.1 L984.7 1507.0 L986.7 1506.8 L988.7 1506.6 L990.7 1506.5 L992.7 1506.3 L994.7 1506.2 L996.7 1506.2 L998.7 1506.1 L1000.7 1506.1 L1002.7 1506.0 L1004.7 1506.0 L1006.7 1506.0 L1008.7 1505.9 L1010.7 1505.9 L1012.8 1505.9 L1014.8 1505.8 L1016.8 1505.8 L1018.8 1505.8 L1020.8 1505.8 L1022.8 1505.7 L1024.8 1505.7 L1026.8 1505.6 L1028.8 1505.6 L1030.8 1505.5 L1032.8 1505.5 L1034.8 1505.4 L1036.8 1505.3 L1038.8 1505.1 L1040.8 1504.9 L1042.8 1504.8 L1044.9 1504.6 L1046.9 1504.3 L1048.9 1504.1 L1049.1 1504.1" fill="none" stroke="#BF0000" stroke-width="10" stroke-linejoin="round" stroke-linecap="butt" stroke-dasharray="36 34" stroke-dashoffset="53.0"/>
<path d="M1049.1 1504.1 L1050.9 1503.9 L1052.9 1503.7 L1054.9 1503.5 L1056.9 1503.3 L1058.9 1503.1 L1060.9 1502.9 L1062.9 1502.7 L1064.9 1502.6 L1066.9 1502.4 L1068.9 1502.3 L1070.9 1502.2 L1072.9 1502.2 L1074.9 1502.1 L1077.0 1502.0 L1079.0 1501.9 L1081.0 1501.9 L1083.0 1501.8 L1085.0 1501.7 L1087.0 1501.7 L1089.0 1501.6 L1091.0 1501.5 L1093.0 1501.4 L1095.0 1501.3 L1097.0 1501.2 L1099.0 1501.1 L1101.0 1501.0 L1103.0 1500.8 L1105.0 1500.7 L1107.0 1500.5 L1109.1 1500.2 L1111.1 1500.0 L1113.1 1499.7 L1115.1 1499.4 L1117.1 1499.1 L1118.2 1498.9" fill="none" stroke="#BF0000" stroke-width="10" stroke-linejoin="round" stroke-linecap="butt" stroke-dasharray="36 34" stroke-dashoffset="53.0"/>
<path d="M1118.2 1498.9 L1119.1 1498.8 L1121.1 1498.4 L1123.1 1498.1 L1125.1 1497.8 L1127.1 1497.5 L1129.1 1497.2 L1131.1 1497.0 L1133.1 1496.7 L1135.1 1496.5 L1137.1 1496.3 L1139.1 1496.1 L1141.2 1495.9 L1143.2 1495.7 L1145.2 1495.6 L1147.2 1495.4 L1149.2 1495.3 L1151.2 1495.1 L1153.2 1495.0 L1155.2 1494.8 L1157.2 1494.7 L1159.2 1494.5 L1161.2 1494.3 L1163.2 1494.2 L1165.2 1494.0 L1167.2 1493.7 L1169.2 1493.5 L1171.2 1493.3 L1173.3 1493.0 L1175.3 1492.7 L1177.3 1492.3 L1179.3 1491.9 L1181.3 1491.5 L1183.3 1491.0 L1185.3 1490.5 L1187.3 1490.1 L1188.7 1489.7" fill="none" stroke="#BF0000" stroke-width="10" stroke-linejoin="round" stroke-linecap="butt" stroke-dasharray="36 34" stroke-dashoffset="53.0"/>
<path d="M1188.7 1489.7 L1189.3 1489.6 L1191.3 1489.0 L1193.3 1488.5 L1195.3 1488.0 L1197.3 1487.5 L1199.3 1487.0 L1201.3 1486.5 L1203.3 1486.0 L1205.4 1485.6 L1207.4 1485.1 L1209.4 1484.7 L1211.4 1484.3 L1213.4 1483.9 L1215.4 1483.5 L1217.4 1483.1 L1219.4 1482.7 L1221.4 1482.3 L1223.4 1481.9 L1225.4 1481.5 L1227.4 1481.0 L1229.4 1480.6 L1231.4 1480.1 L1233.4 1479.6 L1235.4 1479.1 L1237.5 1478.6 L1239.5 1478.0 L1241.5 1477.4 L1243.5 1476.7 L1245.5 1475.9 L1247.5 1475.1 L1249.5 1474.3 L1251.5 1473.4 L1253.5 1472.6 L1255.4 1471.8" fill="none" stroke="#BF0000" stroke-width="10" stroke-linejoin="round" stroke-linecap="butt" stroke-dasharray="36 34" stroke-dashoffset="53.0"/>
<path d="M1255.4 1471.8 L1255.5 1471.7 L1257.5 1470.9 L1259.5 1470.0 L1261.5 1469.1 L1263.5 1468.2 L1265.5 1467.3 L1267.5 1466.4 L1269.6 1465.5 L1271.6 1464.6 L1273.6 1463.7 L1275.6 1462.8 L1277.6 1461.9 L1279.6 1461.0 L1281.6 1460.0 L1283.6 1459.1 L1285.6 1458.2 L1287.7 1457.2 L1289.8 1455.4 L1291.8 1453.2 L1293.9 1450.6 L1296.0 1447.0 L1298.1 1442.6 L1300.1 1441.3 L1302.1 1439.9 L1304.1 1438.4 L1306.1 1436.7 L1308.1 1435.0 L1310.1 1433.1 L1311.4 1431.7" fill="none" stroke="#BF0000" stroke-width="10" stroke-linejoin="round" stroke-linecap="butt" stroke-dasharray="36 34" stroke-dashoffset="53.0"/>
<path d="M1311.4 1431.7 L1312.1 1431.0 L1314.1 1428.8 L1316.2 1426.6 L1318.2 1424.4 L1320.2 1422.3 L1322.2 1420.3 L1324.2 1418.4 L1326.2 1416.3 L1328.2 1414.2 L1330.2 1412.0 L1332.2 1409.7 L1334.2 1407.2 L1336.2 1404.5 L1338.2 1401.6 L1340.2 1398.8 L1342.2 1396.1 L1344.2 1393.7 L1346.2 1391.4 L1348.2 1389.3 L1350.3 1387.1 L1352.3 1384.8 L1354.3 1382.3 L1356.2 1379.6" fill="none" stroke="#BF0000" stroke-width="10" stroke-linejoin="round" stroke-linecap="butt" stroke-dasharray="36 34" stroke-dashoffset="53.0"/>
<path d="M1356.2 1379.6 L1356.3 1379.6 L1358.3 1376.7 L1360.3 1373.8 L1362.3 1370.8 L1364.3 1367.8 L1366.3 1364.7 L1368.3 1361.5 L1370.3 1358.2 L1372.3 1355.0 L1374.3 1351.8 L1376.3 1348.3 L1378.3 1344.9 L1380.3 1341.6 L1382.4 1338.7 L1384.4 1336.3 L1386.4 1334.3 L1388.4 1332.6 L1390.4 1331.1 L1392.4 1329.5 L1394.4 1327.9 L1396.4 1325.9 L1397.3 1324.8" fill="none" stroke="#BF0000" stroke-width="10" stroke-linejoin="round" stroke-linecap="butt" stroke-dasharray="36 34" stroke-dashoffset="53.0"/>
<path d="M1397.3 1324.8 L1398.4 1323.5 L1400.4 1320.3 L1402.4 1316.2 L1404.4 1311.8 L1406.4 1307.4 L1408.4 1303.4 L1410.4 1299.4 L1412.4 1295.5 L1414.4 1291.6 L1416.5 1287.7 L1418.5 1283.8 L1420.5 1279.8 L1422.5 1275.9 L1424.5 1271.9 L1426.5 1267.8 L1428.5 1263.3 L1430.5 1258.5 L1430.7 1258.1" fill="none" stroke="#BF0000" stroke-width="10" stroke-linejoin="round" stroke-linecap="butt" stroke-dasharray="36 34" stroke-dashoffset="53.0"/>
<path d="M1430.7 1258.1 L1432.5 1253.5 L1434.5 1251.3 L1436.5 1249.1 L1438.6 1246.9 L1440.6 1244.8 L1442.6 1242.7 L1444.6 1240.6 L1446.7 1238.3 L1448.7 1235.9 L1450.7 1233.4 L1452.7 1230.9 L1454.8 1228.2 L1456.8 1225.5 L1458.8 1222.7 L1460.8 1219.7 L1462.9 1216.6 L1464.9 1213.3 L1466.9 1209.8 L1468.9 1206.1 L1470.9 1202.3 L1471.7 1201.0" fill="none" stroke="#BF0000" stroke-width="10" stroke-linejoin="round" stroke-linecap="butt" stroke-dasharray="36 34" stroke-dashoffset="53.0"/>
<path d="M1471.7 1201.0 L1473.0 1198.5 L1475.0 1194.8 L1477.0 1191.1 L1479.0 1187.5 L1481.1 1184.1 L1483.1 1180.9 L1485.1 1178.0 L1487.1 1175.3 L1489.2 1172.7 L1491.2 1170.2 L1493.2 1167.8 L1495.2 1165.5 L1497.3 1163.2 L1499.3 1161.0 L1501.3 1158.7 L1503.3 1156.4 L1505.3 1154.1 L1507.4 1151.8 L1509.4 1149.5 L1511.4 1147.3 L1512.2 1146.4" fill="none" stroke="#BF0000" stroke-width="10" stroke-linejoin="round" stroke-linecap="butt" stroke-dasharray="36 34" stroke-dashoffset="53.0"/>
<path d="M1512.2 1146.4 L1513.4 1145.0 L1515.5 1142.8 L1517.5 1140.6 L1519.5 1138.5 L1521.5 1136.3 L1523.6 1134.2 L1525.6 1132.1 L1527.6 1130.0 L1529.6 1127.9 L1531.7 1125.8 L1533.7 1123.8 L1535.7 1121.8 L1537.7 1119.8 L1539.8 1117.9 L1541.8 1116.0 L1543.8 1114.1 L1545.8 1112.3 L1547.8 1110.5 L1549.9 1108.7 L1551.9 1107.0 L1553.9 1105.2 L1555.9 1103.4 L1558.0 1101.6 L1560.0 1099.7 L1561.9 1097.9" fill="none" stroke="#BF0000" stroke-width="10" stroke-linejoin="round" stroke-linecap="butt" stroke-dasharray="36 34" stroke-dashoffset="53.0"/>
<path d="M1561.9 1097.9 L1562.0 1097.7 L1564.0 1095.8 L1566.1 1093.7 L1568.1 1091.7 L1570.1 1089.6 L1572.1 1087.5 L1574.2 1085.4 L1576.2 1083.2 L1578.2 1081.0 L1580.2 1077.4 L1582.2 1073.8 L1584.2 1070.1 L1586.2 1066.3 L1588.2 1062.5 L1590.2 1058.6 L1592.3 1054.7 L1594.3 1050.7 L1596.3 1046.7 L1598.3 1042.6 L1600.3 1038.5 L1602.3 1034.3 L1604.3 1030.0 L1606.3 1025.6 L1608.3 1021.1 L1610.3 1016.6 L1612.3 1011.9 L1614.3 1007.0 L1616.3 1002.0 L1618.3 996.9 L1620.4 991.7 L1622.4 986.4 L1624.4 980.9 L1625.5 977.8" fill="none" stroke="#BF0000" stroke-width="10" stroke-linejoin="round" stroke-linecap="butt" stroke-dasharray="36 34" stroke-dashoffset="53.0"/>
<path d="M1625.5 977.8 L1626.4 975.3 L1628.4 969.5 L1630.4 963.7 L1632.4 957.9 L1634.4 952.1 L1636.4 946.5 L1638.4 940.9 L1640.4 935.2 L1642.4 929.6 L1644.4 923.9 L1646.4 918.1 L1648.5 912.4 L1649.2 910.4" fill="none" stroke="#BF0000" stroke-width="10" stroke-linejoin="round" stroke-linecap="butt" stroke-dasharray="36 34" stroke-dashoffset="53.0"/>
<path d="M1649.2 910.4 L1650.5 906.8 L1652.5 901.1 L1654.5 895.1 L1656.5 888.6 L1658.5 881.3 L1660.5 872.8 L1662.5 863.7 L1664.5 854.6 L1666.5 846.0 L1667.2 843.0" fill="none" stroke="#BF0000" stroke-width="10" stroke-linejoin="round" stroke-linecap="butt" stroke-dasharray="36 34" stroke-dashoffset="53.0"/>
<path d="M1667.2 843.0 L1668.5 837.4 L1670.5 829.0 L1672.5 821.0 L1674.5 813.6 L1676.6 806.6 L1678.6 799.8 L1680.6 793.0 L1682.6 786.2 L1684.6 779.5 L1686.6 772.9 L1688.6 766.2 L1690.6 759.2 L1692.6 751.5 L1694.6 743.2 L1696.6 734.9 L1698.6 727.5 L1700.6 721.7 L1702.7 717.0 L1704.7 712.0 L1706.7 705.8 L1708.7 698.8 L1710.7 691.2 L1712.7 683.4 L1714.7 675.4 L1716.7 667.5 L1718.7 659.3 L1720.7 650.5 L1722.7 641.9 L1722.9 641.3" fill="none" stroke="#BF0000" stroke-width="10" stroke-linejoin="round" stroke-linecap="butt" stroke-dasharray="36 34" stroke-dashoffset="53.0"/>
<path d="M1722.9 641.3 L1724.7 633.7 L1726.7 626.6 L1728.7 620.8 L1730.8 615.8 L1732.8 611.3 L1734.8 607.0 L1736.8 602.9 L1738.8 598.6 L1740.8 593.9 L1742.8 588.7 L1744.8 583.0 L1746.8 577.1 L1748.7 571.4" fill="none" stroke="#BF0000" stroke-width="10" stroke-linejoin="round" stroke-linecap="butt" stroke-dasharray="36 34" stroke-dashoffset="53.0"/>
<path d="M1748.7 571.4 L1748.8 571.0 L1750.8 564.5 L1752.8 558.2 L1754.8 553.3 L1756.8 549.3 L1758.9 545.6 L1760.9 542.3 L1762.9 539.2 L1764.9 536.2 L1766.9 533.3 L1768.9 530.2 L1770.9 526.9 L1772.9 523.3 L1774.9 519.7 L1776.9 515.9 L1778.9 512.1 L1779.6 510.8" fill="none" stroke="#BF0000" stroke-width="10" stroke-linejoin="round" stroke-linecap="butt" stroke-dasharray="36 34" stroke-dashoffset="53.0"/>
<path d="M1779.6 510.8 L1780.9 508.3 L1782.9 504.6 L1785.0 501.0 L1787.0 497.7 L1789.0 494.5 L1791.0 491.5 L1793.0 488.6 L1795.0 485.7 L1797.0 483.0 L1799.0 480.3 L1801.0 477.7 L1803.0 475.1 L1805.0 472.6 L1807.0 470.2 L1809.0 467.8 L1811.0 465.4 L1813.1 463.2 L1815.1 460.9 L1817.1 458.7 L1819.1 456.6 L1821.1 454.4 L1821.1 454.4" fill="none" stroke="#BF0000" stroke-width="10" stroke-linejoin="round" stroke-linecap="butt" stroke-dasharray="36 34" stroke-dashoffset="53.0"/>
<path d="M1821.1 454.4 L1823.1 452.4 L1825.1 450.3 L1827.1 448.3 L1829.1 446.4 L1831.1 444.5 L1833.1 442.6 L1835.1 440.7 L1837.1 438.9 L1839.1 437.1 L1841.2 435.4 L1843.2 433.7 L1845.2 432.0 L1847.2 430.3 L1849.2 428.7 L1851.2 427.0 L1853.2 425.4 L1855.2 423.8 L1857.2 422.2 L1859.2 420.6 L1861.2 419.0 L1863.2 417.4 L1865.2 415.8 L1867.2 414.1 L1869.3 412.5 L1871.3 410.9 L1873.3 409.3 L1874.1 408.7" fill="none" stroke="#BF0000" stroke-width="10" stroke-linejoin="round" stroke-linecap="butt" stroke-dasharray="36 34" stroke-dashoffset="53.0"/>
<path d="M1874.1 408.7 L1875.3 407.7 L1877.3 406.2 L1879.3 404.7 L1881.3 403.3 L1883.3 401.9 L1885.3 400.6 L1887.3 399.3 L1889.3 398.2 L1891.3 397.0 L1893.3 395.9 L1895.4 394.9 L1897.4 393.8 L1899.4 392.8 L1901.4 391.8 L1903.4 390.9 L1905.4 389.9 L1907.4 389.0 L1909.4 388.1 L1911.4 387.2 L1913.4 386.3 L1915.4 385.4 L1917.4 384.5 L1919.4 383.7 L1921.4 382.8 L1923.5 381.9 L1925.5 381.1 L1927.5 380.2 L1929.5 379.4 L1931.5 378.6 L1933.5 377.8 L1935.0 377.2" fill="none" stroke="#BF0000" stroke-width="10" stroke-linejoin="round" stroke-linecap="butt" stroke-dasharray="36 34" stroke-dashoffset="53.0"/>
<path d="M1935.0 377.2 L1935.5 377.0 L1937.5 376.2 L1939.5 375.4 L1941.5 374.7 L1943.5 373.9 L1945.5 373.1 L1947.5 372.3 L1949.5 371.5 L1951.6 370.7 L1953.6 369.9 L1955.6 369.1 L1957.6 368.3 L1959.6 367.5 L1961.6 366.7 L1963.6 365.9 L1965.6 365.1 L1967.6 364.3 L1969.6 363.5 L1971.6 362.7 L1973.6 361.9 L1975.6 361.1 L1977.7 360.3 L1979.7 359.4 L1981.7 358.6 L1983.7 357.8 L1985.7 357.0 L1987.7 356.2 L1989.7 355.4 L1991.7 354.6 L1993.7 353.7 L1995.7 352.9 L1997.7 352.0 L1999.7 351.2 L2000.2 351.0" fill="none" stroke="#BF0000" stroke-width="10" stroke-linejoin="round" stroke-linecap="butt" stroke-dasharray="36 34" stroke-dashoffset="53.0"/>
<path d="M2000.2 351.0 L2001.7 350.3 L2003.7 349.5 L2005.8 348.7 L2007.8 347.9 L2009.8 347.2 L2011.8 346.5 L2013.8 345.8 L2015.8 345.1 L2017.8 344.5 L2019.8 343.9 L2021.8 343.3 L2023.8 342.7 L2025.8 342.1 L2027.8 341.6 L2029.8 341.1 L2031.8 340.6 L2033.9 340.1 L2035.9 339.6 L2037.9 339.1 L2039.9 338.6 L2041.9 338.1 L2043.9 337.6 L2045.9 337.1 L2047.9 336.6 L2049.9 336.1 L2051.9 335.6 L2053.9 335.2 L2055.9 334.7 L2057.9 334.2 L2059.9 333.7 L2062.0 333.2 L2064.0 332.8 L2066.0 332.3 L2068.0 331.9 L2070.0 331.4 L2072.0 330.9 L2074.0 330.5" fill="none" stroke="#BF0000" stroke-width="10" stroke-linejoin="round" stroke-linecap="butt" stroke-dasharray="36 34" stroke-dashoffset="53.0"/>
<path d="M175.0 1592.0 L178.1 1592.0 L181.2 1592.0 L184.3 1592.0 L187.4 1592.0 L190.5 1592.0 L193.6 1592.0 L196.7 1592.0 L199.8 1592.0 L202.9 1592.0 L206.0 1592.0 L209.1 1592.0 L212.2 1592.0 L215.3 1592.0 L218.4 1592.0 L221.5 1592.0 L224.6 1592.0 L227.7 1592.0 L230.8 1592.0 L233.9 1592.0 L237.0 1592.0 L240.1 1592.0 L243.2 1592.0 L246.3 1592.0 L249.3 1592.0 L252.4 1592.0 L255.5 1592.0 L258.6 1592.0 L261.7 1592.0 L264.8 1592.0 L267.9 1592.0 L271.0 1592.0 L274.1 1592.0 L277.2 1592.0 L280.3 1592.0 L283.4 1592.0 L286.5 1592.0 L289.6 1592.0 L292.7 1592.0 L295.8 1592.0 L298.9 1592.0 L302.0 1592.0 L305.1 1592.0 L308.2 1592.0 L311.3 1592.0 L314.4 1592.0 L317.5 1592.0 L320.6 1592.0 L323.7 1592.0 L326.8 1592.0 L329.9 1592.0 L333.0 1592.0 L336.1 1592.0 L339.2 1592.0 L342.3 1592.0 L345.4 1592.0 L348.5 1592.0 L351.6 1592.0 L354.7 1592.0 L357.8 1592.0 L360.9 1592.0 L364.0 1592.0 L367.1 1592.0 L370.2 1592.0 L373.3 1592.0 L376.4 1592.0 L379.5 1592.0 L382.6 1592.0 L385.7 1592.0 L388.8 1592.0 L391.9 1592.0 L394.9 1591.9 L398.0 1591.9 L401.1 1591.8 L404.2 1591.8 L407.3 1591.7 L410.4 1591.7 L413.5 1591.6 L416.6 1591.5 L419.7 1591.5 L422.8 1591.4 L425.9 1591.3 L429.0 1591.1 L432.1 1591.0 L435.2 1590.9 L436.8 1590.8" fill="none" stroke="#EDB120" stroke-width="10" stroke-linejoin="round" stroke-linecap="butt" stroke-dasharray="36 34" stroke-dashoffset="0.0"/>
<path d="M436.8 1590.8 L438.3 1590.7 L441.4 1590.6 L444.5 1590.4 L447.6 1590.3 L450.7 1590.1 L453.8 1589.9 L456.9 1589.8 L460.0 1589.6 L463.1 1589.4 L466.2 1589.2 L469.3 1589.0 L472.4 1588.8 L475.5 1588.5 L478.6 1588.3 L481.7 1588.0 L484.8 1587.8 L487.9 1587.5 L491.0 1587.3 L494.1 1587.0 L497.2 1586.8 L500.3 1586.6 L503.4 1586.4 L506.5 1586.2 L507.2 1586.1" fill="none" stroke="#EDB120" stroke-width="10" stroke-linejoin="round" stroke-linecap="butt" stroke-dasharray="36 34" stroke-dashoffset="53.0"/>
<path d="M507.2 1586.1 L509.6 1586.0 L512.7 1585.8 L515.8 1585.6 L518.9 1585.5 L522.0 1585.3 L525.1 1585.2 L528.2 1585.0 L531.3 1584.8 L534.4 1584.7 L537.5 1584.5 L540.5 1584.4 L543.6 1584.3 L546.7 1584.1 L549.8 1584.0 L552.9 1583.9 L556.0 1583.7 L559.1 1583.6 L562.2 1583.5 L565.3 1583.4 L568.4 1583.3 L571.5 1583.2 L574.6 1583.1 L577.0 1583.0" fill="none" stroke="#EDB120" stroke-width="10" stroke-linejoin="round" stroke-linecap="butt" stroke-dasharray="36 34" stroke-dashoffset="53.0"/>
<path d="M577.0 1583.0 L577.7 1583.0 L580.8 1582.9 L583.9 1582.8 L587.0 1582.7 L590.1 1582.6 L593.2 1582.5 L596.3 1582.4 L599.4 1582.3 L602.5 1582.2 L605.6 1582.2 L608.7 1582.1 L611.8 1582.0 L614.9 1582.0 L618.0 1581.9 L621.1 1581.8 L624.2 1581.8 L627.3 1581.7 L630.4 1581.6 L633.5 1581.6 L636.6 1581.5 L639.7 1581.5 L642.8 1581.4 L645.9 1581.4 L647.0 1581.3" fill="none" stroke="#EDB120" stroke-width="10" stroke-linejoin="round" stroke-linecap="butt" stroke-dasharray="36 34" stroke-dashoffset="53.0"/>
<path d="M647.0 1581.3 L649.0 1581.3 L652.1 1581.2 L655.2 1581.2 L658.3 1581.1 L661.4 1581.1 L664.5 1581.0 L667.6 1581.0 L670.7 1580.9 L673.8 1580.9 L676.9 1580.8 L680.0 1580.8 L683.1 1580.7 L686.2 1580.7 L689.2 1580.7 L692.3 1580.6 L695.4 1580.6 L698.5 1580.6 L701.6 1580.5 L704.7 1580.5 L707.8 1580.5 L710.9 1580.4 L714.0 1580.4 L717.0 1580.4" fill="none" stroke="#EDB120" stroke-width="10" stroke-linejoin="round" stroke-linecap="butt" stroke-dasharray="36 34" stroke-dashoffset="53.0"/>
<path d="M717.0 1580.4 L717.1 1580.4 L720.2 1580.4 L723.3 1580.3 L726.4 1580.3 L729.5 1580.3 L732.6 1580.3 L735.7 1580.3 L738.8 1580.2 L741.9 1580.2 L745.0 1580.2 L748.1 1580.2 L751.2 1580.2 L754.3 1580.1 L757.4 1580.1 L760.5 1580.1 L763.6 1580.1 L766.7 1580.1 L769.8 1580.1 L772.9 1580.1 L776.0 1580.0 L779.1 1580.0 L782.2 1580.0 L785.3 1580.0 L787.0 1580.0" fill="none" stroke="#EDB120" stroke-width="10" stroke-linejoin="round" stroke-linecap="butt" stroke-dasharray="36 34" stroke-dashoffset="53.0"/>
<path d="M787.0 1580.0 L788.4 1580.0 L791.5 1580.0 L794.6 1580.0 L797.7 1579.9 L800.8 1579.9 L803.9 1579.9 L807.0 1579.9 L810.1 1579.9 L813.2 1579.9 L816.3 1579.9 L819.4 1579.9 L822.5 1579.9 L825.6 1579.8 L828.7 1579.8 L831.8 1579.8 L834.8 1579.8 L837.9 1579.8 L841.0 1579.8 L844.1 1579.8 L847.2 1579.8 L850.3 1579.8 L853.4 1579.8 L856.5 1579.8 L857.2 1579.8" fill="none" stroke="#EDB120" stroke-width="10" stroke-linejoin="round" stroke-linecap="butt" stroke-dasharray="36 34" stroke-dashoffset="53.0"/>
<path d="M857.2 1579.8 L859.6 1579.8 L862.7 1579.8 L865.8 1579.8 L868.9 1579.8 L872.0 1579.8 L875.1 1579.7 L878.2 1579.7 L881.3 1579.7 L884.4 1579.7 L887.5 1579.7 L890.6 1579.7 L893.7 1579.7 L896.8 1579.7 L899.9 1579.7 L903.0 1579.7 L906.1 1579.7 L909.2 1579.7 L912.3 1579.7 L915.4 1579.7 L918.5 1579.7 L921.6 1579.7 L924.7 1579.7 L927.1 1579.7" fill="none" stroke="#EDB120" stroke-width="10" stroke-linejoin="round" stroke-linecap="butt" stroke-dasharray="36 34" stroke-dashoffset="53.0"/>
<path d="M927.1 1579.7 L927.8 1579.7 L930.9 1579.7 L934.0 1579.7 L937.1 1579.7 L940.2 1579.7 L943.3 1579.7 L946.4 1579.7 L949.5 1579.7 L952.6 1579.7 L955.7 1579.7 L958.8 1579.7 L961.9 1579.7 L965.0 1579.7 L968.1 1579.7 L971.2 1579.7 L974.3 1579.7 L977.4 1579.7 L980.4 1579.7 L983.5 1579.7 L986.6 1579.7 L989.7 1579.7 L992.8 1579.7 L995.9 1579.6 L997.1 1579.6" fill="none" stroke="#EDB120" stroke-width="10" stroke-linejoin="round" stroke-linecap="butt" stroke-dasharray="36 34" stroke-dashoffset="53.0"/>
<path d="M997.1 1579.6 L999.0 1579.6 L1002.1 1579.6 L1005.2 1579.6 L1008.3 1579.6 L1011.4 1579.6 L1014.5 1579.6 L1017.6 1579.6 L1020.7 1579.6 L1023.8 1579.6 L1026.9 1579.6 L1030.0 1579.6 L1033.1 1579.6 L1036.2 1579.6 L1039.3 1579.6 L1042.4 1579.6 L1045.5 1579.6 L1048.6 1579.6 L1051.7 1579.6 L1054.8 1579.6 L1057.9 1579.6 L1061.0 1579.6 L1064.1 1579.6 L1067.0 1579.6" fill="none" stroke="#EDB120" stroke-width="10" stroke-linejoin="round" stroke-linecap="butt" stroke-dasharray="36 34" stroke-dashoffset="53.0"/>
<path d="M1067.0 1579.6 L1067.2 1579.6 L1070.3 1579.6 L1073.4 1579.6 L1076.5 1579.6 L1079.6 1579.6 L1082.7 1579.6 L1085.8 1579.6 L1088.9 1579.6 L1092.0 1579.6 L1095.1 1579.6 L1098.2 1579.6 L1101.3 1579.6 L1104.4 1579.6 L1107.5 1579.6 L1110.6 1579.6 L1113.7 1579.6 L1116.8 1579.6 L1119.9 1579.6 L1123.0 1579.6 L1126.0 1579.6 L1129.1 1579.6 L1132.2 1579.6 L1135.3 1579.6 L1137.1 1579.6" fill="none" stroke="#EDB120" stroke-width="10" stroke-linejoin="round" stroke-linecap="butt" stroke-dasharray="36 34" stroke-dashoffset="53.0"/>
<path d="M1137.1 1579.6 L1138.4 1579.6 L1141.5 1579.6 L1144.6 1579.5 L1147.7 1579.5 L1150.8 1579.5 L1153.9 1579.5 L1157.0 1579.5 L1160.1 1579.5 L1163.2 1579.5 L1166.3 1579.5 L1169.4 1579.5 L1172.5 1579.5 L1175.6 1579.5 L1178.7 1579.5 L1181.8 1579.5 L1184.9 1579.5 L1188.0 1579.5 L1191.1 1579.4 L1194.2 1579.4 L1197.3 1579.4 L1200.4 1579.4 L1203.5 1579.3 L1206.6 1579.3 L1207.2 1579.3" fill="none" stroke="#EDB120" stroke-width="10" stroke-linejoin="round" stroke-linecap="butt" stroke-dasharray="36 34" stroke-dashoffset="53.0"/>
<path d="M1207.2 1579.3 L1209.7 1579.3 L1212.8 1579.3 L1215.9 1579.2 L1219.0 1579.2 L1222.1 1579.2 L1225.2 1579.2 L1228.3 1579.1 L1231.4 1579.1 L1234.5 1579.1 L1237.6 1579.1 L1240.7 1579.0 L1243.8 1579.0 L1246.9 1579.0 L1250.0 1579.0 L1253.1 1579.0 L1256.2 1578.9 L1259.3 1578.9 L1262.4 1578.9 L1265.5 1578.9 L1268.6 1578.8 L1271.6 1578.8 L1274.7 1578.8 L1277.1 1578.7" fill="none" stroke="#EDB120" stroke-width="10" stroke-linejoin="round" stroke-linecap="butt" stroke-dasharray="36 34" stroke-dashoffset="53.0"/>
<path d="M1277.1 1578.7 L1277.8 1578.7 L1280.9 1578.7 L1284.0 1578.7 L1287.1 1578.6 L1290.2 1578.6 L1293.3 1578.5 L1296.4 1578.5 L1299.5 1578.5 L1302.6 1578.4 L1305.7 1578.4 L1308.8 1578.3 L1311.9 1578.2 L1315.0 1578.2 L1318.1 1578.1 L1321.2 1578.1 L1324.3 1578.0 L1327.4 1578.0 L1330.5 1577.9 L1333.6 1577.8 L1336.7 1577.8 L1339.8 1577.7 L1342.9 1577.6 L1346.0 1577.5 L1347.1 1577.5" fill="none" stroke="#EDB120" stroke-width="10" stroke-linejoin="round" stroke-linecap="butt" stroke-dasharray="36 34" stroke-dashoffset="53.0"/>
<path d="M1347.1 1577.5 L1349.1 1577.5 L1352.2 1577.4 L1355.3 1577.3 L1358.4 1577.2 L1361.5 1577.2 L1364.6 1577.1 L1367.7 1577.0 L1370.8 1576.9 L1373.9 1576.8 L1377.0 1576.7 L1380.1 1576.6 L1383.2 1576.5 L1386.3 1576.4 L1389.4 1576.3 L1392.5 1576.2 L1395.6 1576.1 L1398.7 1575.9 L1401.8 1575.8 L1404.9 1575.7 L1408.0 1575.6 L1411.1 1575.4 L1414.2 1575.3 L1417.2 1575.2 L1417.4 1575.2" fill="none" stroke="#EDB120" stroke-width="10" stroke-linejoin="round" stroke-linecap="butt" stroke-dasharray="36 34" stroke-dashoffset="53.0"/>
<path d="M1417.4 1575.2 L1420.3 1575.1 L1423.4 1574.9 L1426.5 1574.8 L1429.6 1574.7 L1432.7 1574.6 L1435.8 1574.5 L1438.9 1574.4 L1442.0 1574.3 L1445.1 1574.2 L1448.2 1574.1 L1451.3 1574.0 L1454.4 1573.9 L1457.5 1573.9 L1460.6 1573.8 L1463.7 1573.7 L1466.8 1573.6 L1469.9 1573.5 L1473.0 1573.5 L1476.1 1573.4 L1479.2 1573.3 L1482.3 1573.3 L1485.4 1573.2 L1487.3 1573.1" fill="none" stroke="#EDB120" stroke-width="10" stroke-linejoin="round" stroke-linecap="butt" stroke-dasharray="36 34" stroke-dashoffset="53.0"/>
<path d="M1487.3 1573.1 L1488.5 1573.1 L1491.6 1573.0 L1494.7 1573.0 L1497.8 1572.9 L1500.9 1572.8 L1504.0 1572.7 L1507.1 1572.6 L1510.2 1572.5 L1513.3 1572.4 L1516.4 1572.4 L1519.5 1572.3 L1522.6 1572.2 L1525.7 1572.1 L1528.8 1571.9 L1531.9 1571.8 L1535.0 1571.7 L1538.1 1571.6 L1541.2 1571.5 L1544.3 1571.4 L1547.4 1571.3 L1550.5 1571.2 L1553.6 1571.0 L1556.7 1570.9 L1557.3 1570.9" fill="none" stroke="#EDB120" stroke-width="10" stroke-linejoin="round" stroke-linecap="butt" stroke-dasharray="36 34" stroke-dashoffset="53.0"/>
<path d="M1557.3 1570.9 L1559.8 1570.8 L1562.8 1570.6 L1565.9 1570.5 L1569.0 1570.4 L1572.1 1570.2 L1575.2 1570.1 L1578.3 1569.9 L1581.4 1569.8 L1584.5 1569.6 L1587.6 1569.5 L1590.7 1569.3 L1593.8 1569.1 L1596.9 1568.9 L1600.0 1568.7 L1603.1 1568.5 L1606.2 1568.3 L1609.3 1568.1 L1612.4 1567.9 L1615.5 1567.6 L1618.6 1567.4 L1621.7 1567.2 L1624.8 1566.9 L1627.9 1566.7 L1631.0 1566.4 L1634.1 1566.1 L1637.2 1565.8 L1640.3 1565.4 L1643.4 1565.1 L1646.5 1564.7 L1649.6 1564.4 L1652.7 1564.0 L1655.8 1563.7 L1658.9 1563.4 L1662.0 1563.1 L1665.1 1562.8 L1668.2 1562.6 L1671.3 1562.3 L1674.4 1562.1 L1677.5 1561.8 L1680.6 1561.6 L1683.7 1561.4 L1686.8 1561.2 L1689.9 1560.9 L1693.0 1560.7 L1696.1 1560.5 L1697.7 1560.4" fill="none" stroke="#EDB120" stroke-width="10" stroke-linejoin="round" stroke-linecap="butt" stroke-dasharray="36 34" stroke-dashoffset="53.0"/>
<path d="M1697.7 1560.4 L1699.2 1560.3 L1702.3 1560.0 L1705.4 1559.8 L1708.5 1559.6 L1711.5 1559.3 L1714.6 1559.1 L1717.7 1558.9 L1720.8 1558.7 L1723.9 1558.5 L1727.0 1558.3 L1730.1 1558.1 L1733.2 1558.0 L1736.3 1557.8 L1739.4 1557.6 L1742.5 1557.5 L1745.6 1557.3 L1748.7 1557.2 L1751.8 1557.1 L1754.9 1557.0 L1758.0 1556.9 L1761.1 1556.8 L1764.2 1556.7 L1767.3 1556.6 L1767.7 1556.6" fill="none" stroke="#EDB120" stroke-width="10" stroke-linejoin="round" stroke-linecap="butt" stroke-dasharray="36 34" stroke-dashoffset="53.0"/>
<path d="M1767.7 1556.6 L1770.4 1556.5 L1773.5 1556.4 L1776.6 1556.4 L1779.7 1556.3 L1782.8 1556.2 L1785.9 1556.1 L1789.0 1556.0 L1792.1 1556.0 L1795.2 1555.9 L1798.3 1555.8 L1801.4 1555.8 L1804.5 1555.7 L1807.6 1555.7 L1810.7 1555.6 L1813.8 1555.5 L1816.9 1555.5 L1820.0 1555.4 L1823.1 1555.4 L1826.2 1555.3 L1829.3 1555.3 L1832.4 1555.2 L1835.5 1555.2 L1838.6 1555.2 L1841.7 1555.1 L1844.8 1555.1 L1847.9 1555.0 L1851.0 1555.0 L1854.1 1554.9 L1857.1 1554.9 L1860.2 1554.9 L1863.3 1554.8 L1866.4 1554.8 L1869.5 1554.8 L1872.6 1554.7 L1875.7 1554.7 L1878.8 1554.7 L1881.9 1554.7 L1885.0 1554.6 L1888.1 1554.6 L1891.2 1554.6 L1894.3 1554.6 L1897.4 1554.6 L1900.5 1554.5 L1903.6 1554.5 L1906.7 1554.5 L1909.8 1554.5 L1912.9 1554.5 L1916.0 1554.4 L1919.1 1554.4 L1922.2 1554.4 L1925.3 1554.4 L1928.4 1554.4 L1931.5 1554.4 L1934.6 1554.4 L1937.7 1554.4 L1940.8 1554.3 L1943.9 1554.3 L1947.0 1554.3 L1950.1 1554.3 L1953.2 1554.3 L1956.3 1554.3 L1959.4 1554.3 L1962.5 1554.3 L1965.6 1554.3 L1968.7 1554.3 L1971.8 1554.2 L1974.9 1554.2 L1978.0 1554.2 L1981.1 1554.2 L1984.2 1554.2 L1987.3 1554.2 L1990.4 1554.2 L1993.5 1554.2 L1996.6 1554.2 L1999.7 1554.2 L2002.7 1554.2 L2005.8 1554.2 L2008.9 1554.2 L2012.0 1554.2 L2015.1 1554.1 L2018.2 1554.1 L2021.3 1554.1 L2024.4 1554.1 L2027.5 1554.1 L2030.6 1554.1 L2033.7 1554.1 L2036.8 1554.1 L2039.9 1554.1 L2043.0 1554.1 L2046.1 1554.1 L2049.2 1554.1 L2052.3 1554.1 L2055.4 1554.1 L2058.5 1554.1 L2061.6 1554.1 L2064.7 1554.1 L2067.8 1554.1 L2070.9 1554.1 L2074.0 1554.1" fill="none" stroke="#EDB120" stroke-width="10" stroke-linejoin="round" stroke-linecap="butt" stroke-dasharray="36 34" stroke-dashoffset="53.0"/>
<g font-family="Liberation Sans, Arial, Helvetica, sans-serif" font-size="70.0" fill="#262626">
<text x="174.2" y="1691.8" text-anchor="middle">0</text>
<text x="590.6" y="1691.8" text-anchor="middle">100</text>
<text x="1007.1" y="1691.8" text-anchor="middle">200</text>
<text x="1423.5" y="1691.8" text-anchor="middle">300</text>
<text x="1840.0" y="1691.8" text-anchor="middle">400</text>
<text x="148.2" y="1620.2" text-anchor="end">0</text>
<text x="148.2" y="1323.4" text-anchor="end">1</text>
<text x="148.2" y="1026.6" text-anchor="end">2</text>
<text x="148.2" y="729.8" text-anchor="end">3</text>
<text x="148.2" y="433.0" text-anchor="end">4</text>
<text x="148.2" y="136.2" text-anchor="end">5</text>
<text x="179.3" y="98.8" font-size="78">×</text>
<text x="231.6" y="91.3">10</text>
<text x="310.4" y="56.8" font-size="56.6">6</text>
</g>
<g font-family="Liberation Sans, Arial, Helvetica, sans-serif" font-size="77.0" fill="#262626">
<text x="1122.7" y="1791.6" text-anchor="middle">day</text>
<text transform="translate(75 850.5) rotate(-90)" text-anchor="middle">number of individuals</text>
</g>
<rect x="223" y="940" width="302" height="604" fill="#ffffff" stroke="#262626" stroke-width="3.8"/>
<path d="M240 990.0 H416.2" stroke="#0072BD" stroke-width="10" fill="none"/>
<path d="M240 1075.0 H416.2" stroke="#BF0000" stroke-width="10" fill="none"/>
<path d="M240 1160.0 H416.2" stroke="#EDB120" stroke-width="10" fill="none"/>
<path d="M240 1258.0 H416.2" stroke="#0072BD" stroke-width="10" fill="none" stroke-dasharray="36 34"/>
<path d="M240 1369.5 H416.2" stroke="#BF0000" stroke-width="9.2" fill="none" stroke-dasharray="36 34"/>
<path d="M240 1480.5 H416.2" stroke="#EDB120" stroke-width="9.2" fill="none" stroke-dasharray="36 34"/>
<g font-family="Liberation Sans, Arial, Helvetica, sans-serif" font-size="63.8" fill="#000000">
<text transform="translate(430 1014.0) scale(0.95 1.045)">I</text>
<text transform="translate(430 1098.9) scale(0.95 1.045)">R</text>
<text transform="translate(430 1183.7) scale(0.95 1.045)">D</text>
<text transform="translate(430 1272.0) scale(0.95 1.045)">I</text>
<text x="445.3" y="1302.9" font-size="51">d</text>
<text transform="translate(430 1381.9) scale(0.95 1.045)">R</text>
<text x="476.5" y="1412.7" font-size="51">d</text>
<text transform="translate(430 1495.8) scale(0.95 1.045)">D</text>
<text x="476.8" y="1525.5" font-size="51">d</text>
</g>
<g stroke="#262626" stroke-width="3.9" fill="none" stroke-linecap="butt">
<rect x="713.0" y="432.0" width="613.0" height="460.0" fill="#ffffff" stroke-linejoin="miter"/>
<path d="M981.9 892.0 V884.0 M981.9 432.0 V440.0 M1250.7 892.0 V884.0 M1250.7 432.0 V440.0 M713.0 738.7 H721.0 M1326.0 738.7 H1318.0 M713.0 585.3 H721.0 M1326.0 585.3 H1318.0"/>
</g>
<path d="M713.0 892.0 L714.0 892.0 L715.0 892.0 L716.0 892.0 L717.0 892.0 L718.0 892.0 L719.0 892.0 L720.0 892.0 L721.0 892.0 L722.1 892.0 L723.1 892.0 L724.1 892.0 L725.1 892.0 L726.1 892.0 L727.1 892.0 L728.1 892.0 L729.1 892.0 L730.1 892.0 L731.1 892.0 L732.1 892.0 L733.1 892.0 L734.1 892.0 L735.1 892.0 L736.1 892.0 L737.1 892.0 L738.1 892.0 L739.1 892.0 L740.2 892.0 L741.2 892.0 L742.2 892.0 L743.2 892.0 L744.2 892.0 L745.2 892.0 L746.2 892.0 L747.2 892.0 L748.2 892.0 L749.2 892.0 L750.2 892.0 L751.2 892.0 L752.2 892.0 L753.2 892.0 L754.2 892.0 L755.2 892.0 L756.2 892.0 L757.2 892.0 L758.3 892.0 L759.3 892.0 L760.3 892.0 L761.3 892.0 L762.3 892.0 L763.3 892.0 L764.3 892.0 L765.3 892.0 L766.3 892.0 L767.3 892.0 L768.3 892.0 L769.3 892.0 L770.3 892.0 L771.3 892.0 L772.3 892.0 L773.3 892.0 L774.3 892.0 L775.3 892.0 L776.4 892.0 L777.4 892.0 L778.4 892.0 L779.4 892.0 L780.4 892.0 L781.4 892.0 L782.4 892.0 L783.4 892.0 L784.4 892.0 L785.4 892.0 L786.4 892.0 L787.4 892.0 L788.4 892.0 L789.4 892.0 L790.4 892.0 L791.4 892.0 L792.4 892.0 L793.4 892.0 L794.5 892.0 L795.5 892.0 L796.5 892.0 L797.5 892.0 L798.5 892.0 L799.5 892.0 L800.5 892.0 L801.5 892.0 L802.5 892.0 L803.5 892.0 L804.5 892.0 L805.5 892.0 L806.5 892.0 L807.5 892.0 L808.5 891.9 L809.5 891.9 L810.5 891.8 L811.5 891.8 L812.6 891.7 L813.6 891.6 L814.6 891.6 L815.6 891.5 L816.6 891.4 L817.6 891.3 L818.6 891.3 L819.6 891.2 L820.6 891.1 L836.4 882.9 L837.4 882.6 L838.4 882.4 L839.4 882.1 L840.4 881.8 L841.4 881.6 L842.4 881.3 L843.4 881.0 L844.4 880.7 L845.4 880.4 L846.4 880.1 L847.4 879.9 L848.4 879.6 L849.4 879.3 L850.4 879.0 L851.4 878.7 L852.4 878.4 L853.4 878.0 L854.4 877.7 L855.5 877.4 L856.5 877.1 L857.5 876.8 L858.5 876.5 L859.5 876.1 L860.5 875.8 L861.5 875.4 L862.5 875.1 L863.5 874.7 L864.5 874.4 L865.5 874.0 L866.5 873.6 L867.5 873.3 L868.5 872.9 L869.5 872.5 L870.5 872.2 L871.5 871.8 L872.5 871.5 L873.5 871.1 L874.5 870.8 L875.5 870.5 L876.5 870.1 L877.5 869.7 L878.5 869.4 L879.5 869.0 L880.5 868.6 L881.5 868.3 L882.5 867.9 L883.5 867.6 L884.5 867.3 L885.5 867.0 L886.5 866.7 L887.5 866.5 L888.5 866.3 L889.5 866.2 L890.5 866.1 L891.5 866.0 L892.6 865.8 L893.6 865.7 L894.6 865.6 L895.6 865.6 L896.6 865.5 L897.6 865.4 L898.6 865.3 L899.6 865.2 L900.6 865.2 L901.6 865.1 L902.6 865.0 L903.6 865.0 L904.6 864.9 L905.6 864.8 L906.6 864.8 L907.6 864.7 L908.6 864.7 L909.6 864.6 L910.6 864.6 L911.6 864.5 L912.6 864.4 L913.6 864.4 L914.6 864.3 L915.6 864.3 L916.6 864.2 L917.6 864.1 L918.6 864.1 L919.6 864.0 L920.6 864.0 L921.6 863.9 L922.6 863.9 L923.6 863.9 L924.6 863.8 L925.6 863.8 L926.6 863.8 L927.6 863.7 L928.7 863.7 L929.7 863.7 L930.7 863.7 L931.7 863.7 L932.7 863.7 L933.7 863.7 L934.7 863.7 L935.7 863.7 L936.7 863.7 L937.7 863.7 L938.7 863.7 L939.7 863.7 L940.7 863.7 L941.7 863.7 L942.7 863.7 L943.7 863.7 L944.7 863.7 L945.7 863.7 L946.7 863.7 L947.7 863.7 L948.7 863.7 L949.7 863.7 L950.7 863.7 L951.7 863.7 L952.7 863.7 L953.7 863.7 L954.7 863.7 L955.7 863.7 L956.7 863.7 L957.7 863.7 L958.7 863.7 L959.7 863.7 L960.7 863.7 L961.7 863.7 L962.7 863.7 L963.7 863.7 L964.7 863.7 L965.8 863.7 L966.8 863.7 L967.8 863.7 L968.8 863.7 L969.8 863.7 L970.8 863.7 L971.8 863.7 L972.8 863.7 L973.8 863.7 L974.8 863.7 L975.8 863.7 L976.8 863.7 L977.8 863.7 L978.8 863.7 L979.8 863.7 L980.8 863.7 L981.8 863.7 L982.8 863.7 L983.8 863.7 L984.8 863.7 L985.8 863.7 L986.8 863.7 L987.8 863.7 L988.8 863.7 L989.8 863.7 L990.8 863.7 L991.8 863.7 L992.8 863.7 L993.8 863.7 L994.8 863.7 L995.8 863.7 L996.8 863.7 L997.8 863.7 L998.8 863.7 L999.8 863.7 L1000.8 863.7 L1001.8 863.7 L1002.9 863.7 L1003.9 863.7 L1004.9 863.7 L1005.9 863.7 L1006.9 863.7 L1007.9 863.7 L1008.9 863.7 L1009.9 863.7 L1010.9 863.7 L1011.9 863.7 L1012.9 863.7 L1013.9 863.7 L1014.9 863.7 L1015.9 863.7 L1016.9 863.7 L1017.9 863.7 L1018.9 863.7 L1019.9 863.7 L1020.9 863.7 L1021.9 863.7 L1022.9 863.7 L1023.9 863.7 L1024.9 863.7 L1025.9 863.7 L1026.9 863.7 L1027.9 863.7 L1028.9 863.7 L1029.9 863.7 L1030.9 863.7 L1031.9 863.7 L1032.9 863.7 L1033.9 863.7 L1034.9 863.6 L1035.9 863.6 L1036.9 863.5 L1037.9 863.4 L1039.0 863.3 L1040.0 863.2 L1041.0 863.1 L1042.0 863.0 L1043.0 862.9 L1044.0 862.8 L1045.0 862.6 L1046.0 862.5 L1047.0 862.4 L1048.0 862.2 L1049.0 862.1 L1050.0 861.9 L1051.0 861.7 L1052.0 861.5 L1053.0 861.3 L1054.0 861.0 L1055.0 860.8 L1056.0 860.5 L1057.0 860.2 L1058.0 859.8 L1059.0 859.5 L1060.0 859.1 L1061.0 858.7 L1062.0 858.3 L1063.0 857.8 L1064.0 857.2 L1065.0 856.3 L1066.0 855.3 L1067.0 854.1 L1068.0 852.9 L1069.0 851.6 L1070.0 850.2 L1071.0 848.9 L1072.0 847.6 L1073.0 846.4 L1074.0 845.3 L1075.0 844.3 L1076.1 843.3 L1077.1 842.3 L1078.1 841.3 L1079.1 840.4 L1080.1 839.5 L1081.1 838.5 L1082.1 837.6 L1083.1 836.7 L1084.1 835.7 L1085.1 834.8 L1086.1 833.8 L1087.1 832.8 L1088.1 831.8 L1089.1 830.7 L1090.1 829.6 L1091.1 828.5 L1092.1 827.3 L1093.1 826.1 L1094.1 824.9 L1095.1 823.6 L1096.1 822.2 L1097.1 820.8 L1098.1 819.4 L1099.1 818.0 L1100.1 816.5 L1101.1 814.9 L1102.1 813.4 L1103.1 811.8 L1104.1 810.2 L1105.1 808.5 L1106.1 806.9 L1107.1 805.2 L1108.1 803.5 L1109.1 801.7 L1110.1 799.7 L1111.1 797.7 L1112.2 795.5 L1113.2 793.3 L1114.2 791.1 L1115.2 789.0 L1116.2 786.9 L1117.2 784.9 L1118.2 783.0 L1119.2 781.4 L1120.2 779.9 L1121.2 778.4 L1122.2 777.0 L1123.2 775.6 L1124.2 774.3 L1125.2 773.1 L1126.2 771.9 L1127.2 770.7 L1128.2 769.5 L1129.2 768.3 L1130.2 767.2 L1131.2 766.1 L1132.2 764.9 L1133.2 763.8 L1134.2 762.6 L1135.2 761.5 L1136.2 760.3 L1137.2 759.1 L1138.2 758.0 L1139.2 756.8 L1140.2 755.6 L1141.2 754.4 L1142.2 753.3 L1143.2 752.2 L1144.2 751.0 L1145.2 749.9 L1146.2 748.9 L1147.2 747.8 L1148.2 746.8 L1149.3 745.8 L1150.3 744.9 L1151.3 744.0 L1152.3 743.1 L1153.3 742.2 L1154.3 741.3 L1155.3 740.5 L1156.3 739.7 L1157.3 738.9 L1158.3 738.1 L1159.3 737.3 L1160.3 736.6 L1161.3 735.9 L1162.3 735.2 L1163.3 734.5 L1164.3 733.8 L1165.3 733.2 L1166.3 732.6 L1167.3 732.0 L1168.3 730.6 L1169.3 729.2 L1170.3 727.6 L1171.4 725.9 L1172.4 724.1 L1173.4 722.2 L1174.4 720.3 L1175.4 718.2 L1176.5 716.1 L1177.5 713.9 L1178.5 711.7 L1179.5 709.4 L1180.5 707.0 L1181.5 704.6 L1182.5 702.0 L1183.6 699.2 L1184.6 696.4 L1185.6 693.4 L1186.6 690.2 L1187.6 687.0 L1188.7 683.7 L1189.7 680.3 L1190.7 676.9 L1191.7 673.3 L1192.7 669.6 L1193.7 665.6 L1194.8 661.4 L1195.8 657.2 L1196.8 652.9 L1197.8 648.7 L1198.8 644.6 L1199.8 640.7 L1200.8 636.9 L1201.9 633.2 L1202.9 629.6 L1203.9 626.0 L1204.9 622.3 L1205.9 618.6 L1207.0 614.9 L1208.0 611.0 L1209.0 606.9 L1210.0 602.6 L1211.0 598.3 L1212.0 594.0 L1213.0 589.8 L1214.1 585.8 L1215.1 582.1 L1216.1 578.8 L1217.1 575.6 L1218.1 572.5 L1219.2 569.6 L1220.2 566.9 L1221.2 564.4 L1222.2 562.0 L1223.2 560.3 L1224.2 558.5 L1225.2 556.9 L1226.2 555.2 L1227.2 553.5 L1228.2 551.9 L1229.3 550.4 L1230.3 548.8 L1231.3 547.3 L1232.3 545.9 L1233.3 544.5 L1234.3 543.1 L1235.3 541.7 L1236.3 540.4 L1237.3 539.2 L1238.3 538.0 L1239.3 536.8 L1240.3 535.6 L1241.3 534.4 L1242.4 533.3 L1243.4 532.2 L1244.4 531.0 L1245.4 529.9 L1246.4 528.8 L1247.4 527.7 L1248.4 526.6 L1249.4 525.4 L1250.4 524.3 L1251.4 523.1 L1252.4 521.9 L1253.4 520.7 L1254.4 519.5 L1255.5 518.3 L1256.5 517.1 L1257.5 515.9 L1258.5 514.7 L1259.5 513.5 L1260.5 512.4 L1261.5 511.2 L1262.5 510.0 L1263.5 508.9 L1264.5 507.8 L1265.5 506.7 L1266.5 505.6 L1267.5 504.6 L1268.6 503.5 L1269.6 502.5 L1270.6 501.6 L1271.6 500.6 L1272.6 499.7 L1273.6 498.8 L1274.6 497.9 L1275.6 497.0 L1276.6 496.1 L1277.6 495.2 L1278.6 494.4 L1279.6 493.5 L1280.7 492.7 L1281.7 491.9 L1282.7 491.1 L1283.7 490.2 L1284.7 489.4 L1285.7 488.7 L1286.7 487.9 L1287.7 487.1 L1288.7 486.3 L1289.7 485.5 L1290.7 484.7 L1291.7 484.0 L1292.7 483.2 L1293.8 482.5 L1294.8 481.7 L1295.8 481.0 L1296.8 480.2 L1297.8 479.5 L1298.8 478.8 L1299.8 478.1 L1300.8 477.4 L1301.8 476.7 L1302.8 476.0 L1303.8 475.4 L1304.8 474.7 L1305.8 474.1 L1306.9 473.4 L1307.9 472.8 L1308.9 472.2 L1309.9 471.6 L1310.9 471.0 L1311.9 470.4 L1312.9 469.8 L1313.9 469.2 L1314.9 468.6 L1315.9 468.1 L1316.9 467.5 L1317.9 466.9 L1318.9 466.4 L1320.0 465.8 L1321.0 465.3 L1322.0 464.8 L1323.0 464.3 L1324.0 463.8 L1325.0 463.3 L1326.0 462.8" fill="none" stroke="#EDB120" stroke-width="10" stroke-linejoin="round" stroke-linecap="butt"/>
<path d="M713.0 892.0 L714.0 892.0 L715.0 892.0 L716.0 892.0 L717.0 892.0 L718.0 892.0 L719.0 892.0 L720.0 892.0 L721.0 892.0 L722.0 892.0 L723.0 892.0 L724.0 892.0 L725.0 892.0 L726.0 892.0 L727.0 892.0 L728.0 892.0 L729.0 892.0 L730.0 892.0 L731.0 892.0 L732.0 892.0 L733.0 892.0 L734.0 892.0 L735.0 892.0 L736.0 892.0 L737.0 892.0 L738.0 892.0 L739.0 892.0 L740.0 892.0 L741.0 892.0 L742.0 892.0 L743.0 892.0 L744.0 892.0 L745.0 892.0 L746.0 892.0 L747.0 892.0 L748.0 892.0 L749.0 892.0 L750.0 892.0 L751.0 892.0 L752.0 892.0 L753.0 892.0 L754.0 892.0 L755.0 892.0 L756.0 892.0 L757.0 892.0 L758.0 892.0 L759.0 892.0 L760.0 892.0 L761.0 892.0 L762.0 892.0 L763.0 892.0 L764.0 892.0 L765.0 892.0 L766.0 892.0 L767.0 892.0 L768.0 892.0 L769.0 892.0 L770.0 892.0 L771.0 892.0 L772.0 892.0 L773.0 892.0 L774.0 892.0 L775.0 892.0 L776.0 892.0 L777.0 892.0 L778.0 892.0 L779.0 892.0 L780.0 892.0 L781.0 891.9 L782.0 891.8 L783.0 891.5 L784.0 891.2 L785.0 890.7 L786.0 890.3 L787.0 889.7 L788.0 889.2 L789.0 888.6 L790.0 888.0 L791.0 887.3 L792.0 886.5 L793.0 885.5 L794.0 884.4 L795.0 883.2 L796.0 881.8 L797.0 880.4 L798.0 878.9 L799.0 877.3 L800.0 875.7 L801.0 874.0 L802.0 872.3 L803.0 870.5 L804.0 868.8 L805.0 867.0 L806.0 865.1 L807.0 863.1 L808.0 860.8 L809.0 858.5 L810.0 856.0 L811.0 853.4 L812.0 850.8 L813.0 848.2 L813.2 847.8" fill="none" stroke="#EDB120" stroke-width="10" stroke-linejoin="round" stroke-linecap="butt" stroke-dasharray="36 34" stroke-dashoffset="0.0"/>
<path d="M813.2 847.8 L814.0 845.6 L815.0 843.1 L816.0 840.6 L817.0 838.2 L818.0 835.9 L819.0 833.8 L820.0 831.8 L821.0 830.0 L822.0 828.2 L823.0 826.4 L824.0 824.7 L825.0 823.0 L826.0 821.3 L827.0 819.7 L828.0 818.1 L829.0 816.5 L830.0 815.0 L831.0 813.5 L832.0 812.1 L833.0 810.7 L834.0 809.3 L835.0 808.0 L836.0 806.7 L837.0 805.5 L838.0 804.2 L839.0 803.1 L840.0 801.9 L841.0 800.8 L842.0 799.7 L843.0 798.6 L844.0 797.5 L845.0 796.5 L846.0 795.5 L847.0 794.6 L848.0 793.7 L849.0 792.8 L850.0 792.0 L850.3 791.8" fill="none" stroke="#EDB120" stroke-width="10" stroke-linejoin="round" stroke-linecap="butt" stroke-dasharray="36 34" stroke-dashoffset="53.0"/>
<path d="M850.3 791.8 L851.0 791.2 L852.0 790.4 L853.0 789.7 L854.0 789.0 L855.0 788.2 L856.0 787.6 L857.0 786.9 L858.0 786.3 L859.0 785.6 L860.0 785.0 L861.0 784.4 L862.0 783.8 L863.0 783.2 L864.0 782.6 L865.0 782.1 L866.0 781.5 L867.0 780.9 L868.0 780.3 L869.0 779.8 L870.0 779.2 L871.0 778.7 L872.0 778.1 L873.0 777.6 L874.0 777.1 L875.0 776.6 L876.0 776.2 L877.0 775.7 L878.0 775.3 L879.0 774.9 L880.0 774.5 L881.0 774.2 L882.0 773.9 L883.0 773.5 L884.0 773.2 L885.0 772.9 L886.0 772.6 L887.0 772.3 L888.0 772.1 L889.0 771.8 L890.0 771.5 L891.0 771.3 L892.0 771.1 L893.0 770.8 L894.0 770.6 L895.0 770.4 L896.0 770.2 L897.0 770.0 L898.0 769.9 L899.0 769.7 L900.0 769.5 L901.0 769.4 L902.0 769.2 L903.0 769.0 L904.0 768.9 L905.0 768.7 L906.0 768.5 L907.0 768.4 L908.0 768.2 L909.0 768.1 L910.0 767.9 L911.0 767.8 L912.0 767.7 L913.0 767.5 L913.9 767.4" fill="none" stroke="#EDB120" stroke-width="10" stroke-linejoin="round" stroke-linecap="butt" stroke-dasharray="36 34" stroke-dashoffset="53.0"/>
<path d="M913.9 767.4 L914.0 767.4 L915.0 767.3 L916.0 767.1 L917.0 767.0 L918.0 766.9 L919.0 766.8 L920.0 766.7 L921.0 766.6 L922.0 766.5 L923.0 766.4 L924.0 766.3 L925.0 766.2 L926.0 766.1 L927.0 766.0 L928.0 766.0 L929.0 765.9 L930.0 765.8 L931.0 765.8 L932.0 765.7 L933.0 765.7 L934.0 765.6 L935.0 765.6 L936.0 765.5 L937.0 765.5 L938.0 765.5 L939.0 765.4 L940.0 765.4 L941.0 765.3 L942.0 765.3 L943.0 765.3 L944.0 765.2 L945.0 765.2 L946.0 765.2 L947.0 765.1 L948.0 765.1 L949.0 765.1 L950.0 765.0 L951.0 765.0 L952.0 765.0 L953.0 764.9 L954.0 764.9 L955.0 764.9 L956.0 764.9 L957.0 764.8 L958.0 764.8 L959.0 764.8 L960.0 764.8 L961.0 764.7 L962.0 764.7 L963.0 764.7 L964.0 764.7 L965.0 764.6 L966.0 764.6 L967.0 764.6 L968.0 764.6 L969.0 764.5 L970.0 764.5 L971.0 764.5 L972.0 764.5 L973.0 764.5 L974.0 764.5 L975.0 764.4 L976.0 764.4 L977.0 764.4 L978.0 764.4 L979.0 764.4 L980.0 764.4 L981.0 764.3 L982.0 764.3 L983.0 764.3 L983.7 764.3" fill="none" stroke="#EDB120" stroke-width="10" stroke-linejoin="round" stroke-linecap="butt" stroke-dasharray="36 34" stroke-dashoffset="53.0"/>
<path d="M983.7 764.3 L984.0 764.3 L985.0 764.3 L986.0 764.3 L987.0 764.2 L988.0 764.2 L989.0 764.2 L990.0 764.2 L991.0 764.2 L992.0 764.2 L993.0 764.2 L994.0 764.1 L995.0 764.1 L996.0 764.1 L997.0 764.1 L998.0 764.1 L999.0 764.0 L1000.0 764.0 L1001.0 764.0 L1002.0 764.0 L1003.0 763.9 L1004.0 763.9 L1005.0 763.9 L1006.0 763.9 L1007.0 763.9 L1008.0 763.8 L1009.0 763.8 L1010.0 763.8 L1011.0 763.8 L1012.0 763.8 L1013.0 763.7 L1014.0 763.7 L1015.0 763.7 L1016.0 763.7 L1017.0 763.6 L1018.0 763.6 L1019.0 763.6 L1020.0 763.5 L1021.0 763.5 L1022.0 763.5 L1023.0 763.5 L1024.0 763.4 L1025.0 763.4 L1026.0 763.3 L1027.0 763.3 L1028.0 763.3 L1029.0 763.2 L1030.0 763.2 L1031.0 763.1 L1032.0 763.1 L1033.0 763.0 L1034.0 763.0 L1035.0 762.9 L1036.0 762.8 L1037.0 762.8 L1038.0 762.7 L1039.0 762.5 L1040.0 762.4 L1041.0 762.2 L1042.0 762.0 L1043.0 761.7 L1044.0 761.5 L1045.0 761.2 L1046.0 760.9 L1047.0 760.6 L1048.0 760.4 L1049.0 760.1 L1050.0 759.8 L1051.0 759.5 L1052.0 759.3 L1053.0 759.0 L1053.0 759.0" fill="none" stroke="#EDB120" stroke-width="10" stroke-linejoin="round" stroke-linecap="butt" stroke-dasharray="36 34" stroke-dashoffset="53.0"/>
<path d="M1053.0 759.0 L1054.0 758.8 L1055.0 758.5 L1056.0 758.3 L1057.0 758.1 L1058.0 757.9 L1059.0 757.6 L1060.0 757.4 L1061.0 757.2 L1062.0 756.9 L1063.0 756.7 L1064.0 756.4 L1065.0 756.2 L1066.0 755.9 L1067.0 755.6 L1068.0 755.3 L1069.0 755.0 L1070.0 754.6 L1071.0 754.3 L1072.0 753.9 L1073.0 753.4 L1074.0 753.0 L1075.0 752.5 L1076.0 752.1 L1077.0 751.5 L1078.0 751.0 L1079.0 750.5 L1080.0 749.9 L1081.0 749.3 L1082.0 748.7 L1083.0 748.1 L1084.0 747.5 L1085.0 746.8 L1086.0 746.2 L1087.0 745.5 L1088.0 744.8 L1089.0 744.1 L1090.0 743.4 L1091.0 742.6 L1092.0 741.9 L1093.0 741.1 L1094.0 740.3 L1095.0 739.6 L1096.0 738.8 L1097.0 738.0 L1098.0 737.2 L1099.0 736.3 L1100.0 735.3 L1101.0 734.3 L1102.0 733.3 L1103.0 732.2 L1104.0 731.0 L1105.0 729.8 L1106.0 728.6 L1107.0 727.3 L1108.0 726.1 L1109.0 724.8 L1110.0 723.5 L1110.9 722.3" fill="none" stroke="#EDB120" stroke-width="10" stroke-linejoin="round" stroke-linecap="butt" stroke-dasharray="36 34" stroke-dashoffset="53.0"/>
<path d="M1110.9 722.3 L1111.0 722.2 L1112.0 720.9 L1113.0 719.6 L1114.0 718.3 L1115.0 717.0 L1116.0 715.7 L1117.0 714.5 L1118.0 713.3 L1119.0 712.2 L1120.0 711.1 L1121.0 710.0 L1122.0 709.0 L1123.0 708.0 L1124.0 707.1 L1125.0 706.2 L1126.0 705.4 L1127.0 704.5 L1128.0 703.7 L1129.0 702.9 L1130.0 702.1 L1131.0 701.3 L1132.0 700.6 L1133.0 699.8 L1134.0 699.0 L1135.0 698.3 L1136.0 697.5 L1137.0 696.7 L1138.0 696.0 L1139.0 695.2 L1140.0 694.4 L1141.0 693.5 L1142.0 692.7 L1143.0 691.8 L1144.0 690.9 L1145.0 690.0 L1146.0 689.0 L1147.0 688.0 L1148.0 687.0 L1149.0 685.9 L1150.0 684.8 L1151.0 683.7 L1152.0 682.6 L1153.0 681.5 L1154.0 680.3 L1155.0 679.1 L1156.0 677.9 L1157.0 676.6 L1158.0 675.3 L1159.0 674.0 L1159.2 673.8" fill="none" stroke="#EDB120" stroke-width="10" stroke-linejoin="round" stroke-linecap="butt" stroke-dasharray="36 34" stroke-dashoffset="53.0"/>
<path d="M1159.2 673.8 L1160.0 672.7 L1161.0 671.3 L1162.0 669.9 L1163.0 668.5 L1164.0 667.0 L1165.0 665.5 L1166.0 663.9 L1167.0 662.3 L1168.0 660.7 L1169.0 659.0 L1170.0 657.3 L1171.0 655.4 L1172.0 653.5 L1173.0 651.5 L1174.0 649.4 L1175.0 647.3 L1176.0 645.1 L1177.0 642.8 L1178.0 640.4 L1179.0 638.0 L1180.0 635.4 L1181.0 632.9 L1182.0 630.2 L1183.0 627.3 L1184.0 624.2 L1185.0 620.8 L1186.0 617.3 L1187.0 613.6 L1187.9 610.4" fill="none" stroke="#EDB120" stroke-width="10" stroke-linejoin="round" stroke-linecap="butt" stroke-dasharray="36 34" stroke-dashoffset="53.0"/>
<path d="M1187.9 610.4 L1188.0 610.0 L1189.0 606.3 L1190.0 602.8 L1191.0 599.3 L1192.0 596.2 L1193.0 593.3 L1194.0 590.5 L1195.0 587.9 L1196.0 585.3 L1197.0 582.8 L1198.0 580.4 L1199.0 578.0 L1200.0 575.7 L1201.0 573.4 L1202.0 571.1 L1203.0 568.8 L1204.0 566.5 L1205.0 564.1 L1206.0 561.8 L1207.0 559.4 L1208.0 557.0 L1209.0 554.6 L1210.0 552.3 L1211.0 550.1 L1212.0 548.0 L1213.0 546.0 L1213.3 545.5" fill="none" stroke="#EDB120" stroke-width="10" stroke-linejoin="round" stroke-linecap="butt" stroke-dasharray="36 34" stroke-dashoffset="53.0"/>
<path d="M1213.3 545.5 L1214.0 544.1 L1215.0 542.2 L1216.0 540.4 L1217.0 538.6 L1218.0 536.9 L1219.0 535.3 L1220.0 533.9 L1221.0 532.5 L1222.0 531.3 L1223.0 530.3 L1224.0 529.2 L1225.0 528.2 L1226.0 527.2 L1227.0 526.3 L1228.0 525.4 L1229.0 524.5 L1230.0 523.7 L1231.0 522.8 L1232.0 522.0 L1233.0 521.3 L1234.0 520.5 L1235.0 519.8 L1236.0 519.1 L1237.0 518.4 L1238.0 517.8 L1239.0 517.1 L1240.0 516.5 L1241.0 515.9 L1242.0 515.3 L1243.0 514.8 L1244.0 514.2 L1245.0 513.7 L1246.0 513.2 L1247.0 512.7 L1248.0 512.2 L1249.0 511.7 L1250.0 511.3 L1251.0 510.8 L1252.0 510.4 L1253.0 510.0 L1254.0 509.6 L1255.0 509.2 L1256.0 508.8 L1257.0 508.4 L1258.0 508.1 L1259.0 507.7 L1260.0 507.4 L1261.0 507.1 L1262.0 506.8 L1263.0 506.5 L1264.0 506.2 L1265.0 506.0 L1265.7 505.8" fill="none" stroke="#EDB120" stroke-width="10" stroke-linejoin="round" stroke-linecap="butt" stroke-dasharray="36 34" stroke-dashoffset="53.0"/>
<path d="M1265.7 505.8 L1266.0 505.8 L1267.0 505.5 L1268.0 505.3 L1269.0 505.1 L1270.0 504.9 L1271.0 504.7 L1272.0 504.5 L1273.0 504.4 L1274.0 504.2 L1275.0 504.0 L1276.0 503.9 L1277.0 503.7 L1278.0 503.6 L1279.0 503.4 L1280.0 503.3 L1281.0 503.2 L1282.0 503.0 L1283.0 502.9 L1284.0 502.8 L1285.0 502.7 L1286.0 502.6 L1287.0 502.5 L1288.0 502.4 L1289.0 502.3 L1290.0 502.2 L1291.0 502.1 L1292.0 502.0 L1293.0 501.9 L1294.0 501.8 L1295.0 501.8 L1296.0 501.7 L1297.0 501.6 L1298.0 501.5 L1299.0 501.4 L1300.0 501.3 L1301.0 501.3 L1302.0 501.2 L1303.0 501.1 L1304.0 501.1 L1305.0 501.0 L1306.0 500.9 L1307.0 500.9 L1308.0 500.8 L1309.0 500.7 L1310.0 500.7 L1311.0 500.6 L1312.0 500.6 L1313.0 500.5 L1314.0 500.5 L1315.0 500.4 L1316.0 500.4 L1317.0 500.3 L1318.0 500.3 L1319.0 500.2 L1320.0 500.2 L1321.0 500.2 L1322.0 500.1 L1323.0 500.1 L1324.0 500.1 L1325.0 500.0 L1326.0 500.0" fill="none" stroke="#EDB120" stroke-width="10" stroke-linejoin="round" stroke-linecap="butt" stroke-dasharray="36 34" stroke-dashoffset="53.0"/>
<g font-family="Liberation Sans, Arial, Helvetica, sans-serif" font-size="57.6" fill="#262626">
<text x="710.6" y="967" text-anchor="middle">0</text>
<text x="979.5" y="967" text-anchor="middle">200</text>
<text x="1248.3" y="967" text-anchor="middle">400</text>
<text x="698.2" y="916.0" text-anchor="end">0</text>
<text x="698.2" y="762.7" text-anchor="end">5</text>
<text x="698.2" y="609.3" text-anchor="end">10</text>
<text x="698.2" y="456.0" text-anchor="end">15</text>
<text x="716.4" y="426.4" font-size="64.5">×</text>
<text x="762" y="419.3">10</text>
<text x="827" y="392.8" font-size="46">4</text>
</g>
</svg>
</body></html>
